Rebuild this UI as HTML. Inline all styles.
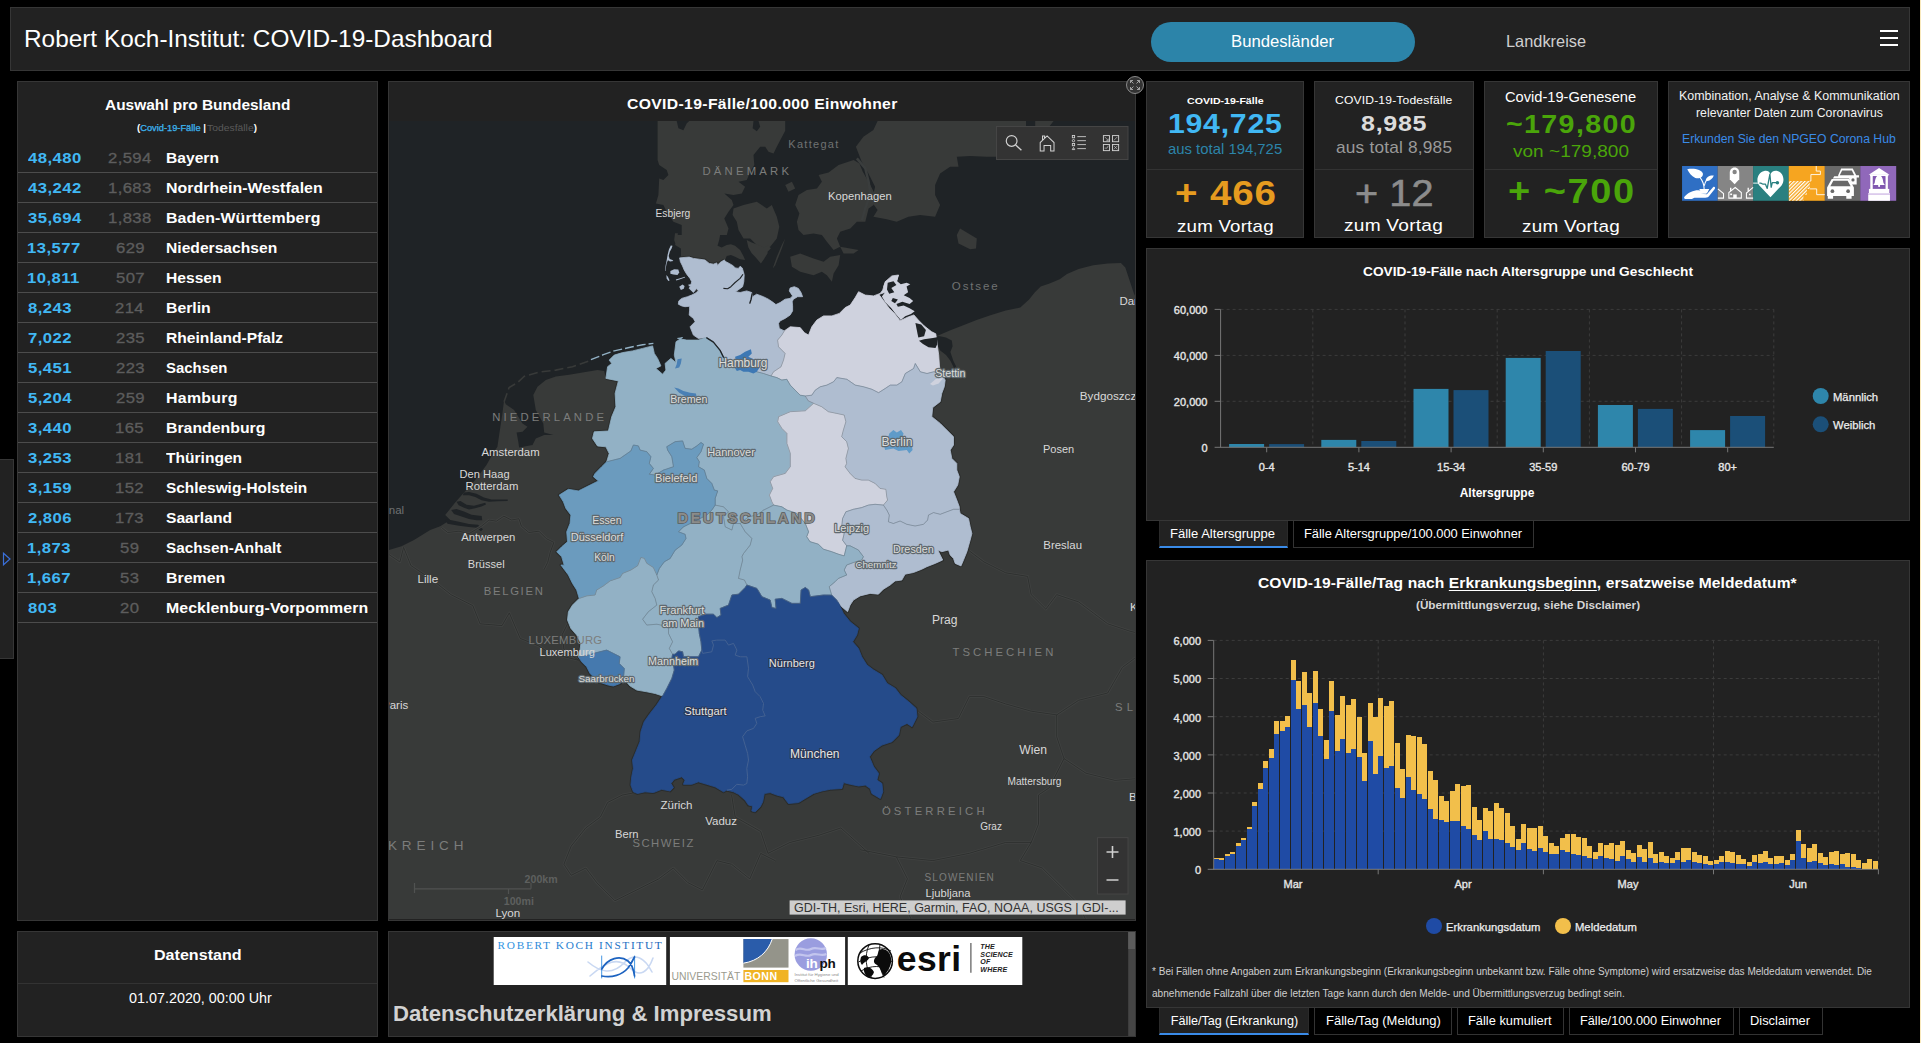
<!DOCTYPE html>
<html lang="de">
<head>
<meta charset="utf-8">
<title>Robert Koch-Institut: COVID-19-Dashboard</title>
<style>
*{box-sizing:border-box;margin:0;padding:0}
html,body{width:1921px;height:1043px;overflow:hidden;background:#000;color:#fff;font-family:"Liberation Sans",sans-serif}
.abs{position:absolute}
.t{position:absolute;white-space:nowrap;line-height:normal}
.panel{position:absolute;background:#222;border:1px solid #363636}
svg{display:block;overflow:hidden}
svg text{font-family:"Liberation Sans",sans-serif}
/* header */
#hdr{left:10px;top:7px;width:1900px;height:64px}
#pill{left:1140px;top:14px;width:264px;height:40px;border-radius:20px;background:#2c84a9}
.hb{left:1869px;width:18px;height:2px;background:#fff}
/* left list */
#list{left:17px;top:81px;width:361px;height:840px}
.row{position:absolute;left:0;width:359px;height:30px;border-bottom:1px solid #4c4c4c}
#sidetab{left:0;top:459px;width:14px;height:200px;border-left:none}
/* datenstand */
#ds{left:17px;top:931px;width:361px;height:106px}
#ds .hr{left:0;top:51px;width:100%;height:1px;background:#333}
/* map */
#map{left:388px;top:81px;width:748px;height:840px}
/* logos */
#logos{left:388px;top:931px;width:748px;height:106px;overflow:hidden}
/* kpi */
.kpi .hr{position:absolute;left:0;top:87px;width:100%;height:1px;background:#333}
/* charts */
.grid{stroke:#3c3c3c;stroke-width:1;stroke-dasharray:3 3}
.axis{stroke:#777;stroke-width:1}
.tick{font-size:11px;fill:#e6e6e6;stroke:#e6e6e6;stroke-width:0.35px}
.leg{font-size:11.25px;fill:#eee;stroke:#eee;stroke-width:0.25px}
.axtitle{font-size:12px;fill:#fff;font-weight:bold}
.tab{position:absolute;height:27px;border:1px solid #333;border-top:none;background:#000;font-size:13px;line-height:25px;text-align:center;white-space:nowrap;color:#fff}
.tab.on{background:#222;border:none;border-bottom:2px solid #3a8be8;border-left:1px solid #2a2a2a;border-right:1px solid #2a2a2a;line-height:25px}
</style>
</head>
<body>
<!-- HEADER -->
<div class="panel" id="hdr">
  <div class="abs" id="pill"></div>
  <div class="abs hb" style="top:22px"></div><div class="abs hb" style="top:29px"></div><div class="abs hb" style="top:36px"></div>
</div>

<!-- LEFT LIST -->
<div class="panel" id="list">
<div class="row" style="top:61px"></div>
<div class="row" style="top:91px"></div>
<div class="row" style="top:121px"></div>
<div class="row" style="top:151px"></div>
<div class="row" style="top:181px"></div>
<div class="row" style="top:211px"></div>
<div class="row" style="top:241px"></div>
<div class="row" style="top:271px"></div>
<div class="row" style="top:301px"></div>
<div class="row" style="top:331px"></div>
<div class="row" style="top:361px"></div>
<div class="row" style="top:391px"></div>
<div class="row" style="top:421px"></div>
<div class="row" style="top:451px"></div>
<div class="row" style="top:481px"></div>
<div class="row" style="top:511px"></div>
</div>
<div class="panel" id="sidetab"><svg class="abs" style="left:2px;top:92px" width="10" height="14" viewBox="0 0 10 14"><path d="M1.5 1.2 L8 7 L1.5 12.8 Z" fill="none" stroke="#3a6fd8" stroke-width="1.2"/></svg></div>

<div class="panel" id="ds"><div class="abs hr"></div></div>

<!-- MAP -->
<div class="panel" id="map">
<svg class="abs" style="left:0;top:39px" width="746" height="798" viewBox="389 121 746 798">
<style>.ml{fill:#d8d8d8;font-family:"Liberation Sans",sans-serif}.mh{fill:#dcdcda;stroke:#5f696f;stroke-width:2.3px;paint-order:stroke;stroke-linejoin:round}.md{fill:#e6e6e6;stroke:#2a3550;stroke-width:2px;paint-order:stroke;stroke-linejoin:round}.mc{fill:#7c7d7c}.ms{fill:#6f7272}.bd{fill:none;stroke:#2d2f2e;stroke-width:0.9}.bg{fill:none;stroke:#404241;stroke-width:2.6;stroke-linejoin:round}</style>
<rect x="389" y="121" width="746" height="798" fill="#383a39"/>
<path d="M389.0 121.0 L657.6 121.0 L657.6 160.0 L659.2 165.1 L666.7 170.1 L668.4 175.1 L663.4 180.1 L659.2 178.4 L658.4 195.1 L655.9 203.4 L663.4 205.1 L666.7 211.8 L673.4 221.8 L681.7 225.1 L681.7 235.1 L676.7 235.1 L675.1 245.1 L680.9 248.5 L680.9 258.5 L690.0 273.0 L700.0 300.0 L705.0 330.0 L700.0 347.0 L674.0 381.0 L650.0 381.0 L625.0 371.0 L605.9 378.4 L604.2 370.9 L597.5 370.1 L582.5 372.6 L569.2 374.7 L555.8 376.4 L545.8 380.1 L537.5 386.8 L533.3 395.1 L535.8 410.1 L543.3 423.5 L544.2 432.6 L553.3 435.1 L544.2 435.1 L535.8 438.5 L532.5 445.1 L519.1 447.6 L518.3 441.8 L516.6 432.6 L522.5 431.8 L527.5 426.8 L522.5 423.5 L514.1 410.1 L505.8 404.3 L504.1 400.1 L502.4 413.4 L499.9 430.1 L497.4 446.8 L491.4 456.2 L486.5 465.0 L479.0 475.0 L470.2 486.2 L464.0 492.5 L455.2 502.5 L445.2 515.0 L450.2 520.0 L440.2 526.2 L430.2 530.0 L414.0 540.0 L401.5 546.2 L389.0 549.9Z" fill="#1f2326"/>
<path d="M785.2 121.0 L877.6 121.0 L873.4 130.0 L863.4 136.7 L855.9 146.7 L861.7 161.7 L868.4 173.4 L875.1 186.7 L871.7 201.8 L877.6 210.1 L873.4 216.8 L886.7 219.3 L896.7 221.8 L908.4 216.8 L920.1 215.1 L935.1 216.8 L940.1 205.1 L935.1 195.1 L935.1 185.1 L940.1 173.4 L950.1 166.7 L958.5 166.7 L956.8 156.7 L970.2 155.9 L986.8 156.7 L1003.5 156.7 L1036.9 148.4 L1045.2 131.7 L1053.6 121.0 L1136.0 121.0 L1136.2 298.1 L1134.0 293.7 L1131.1 285.0 L1128.2 276.2 L1125.3 267.5 L1120.9 263.1 L1107.8 263.4 L1093.2 265.3 L1078.6 268.9 L1067.0 274.0 L1059.7 279.2 L1049.5 283.5 L1040.7 286.4 L1034.9 292.3 L1029.1 299.6 L1020.3 307.6 L1005.8 310.5 L991.2 314.9 L976.6 320.0 L962.0 325.8 L950.4 330.2 L938.7 335.3 L900.0 345.0 L810.0 345.0 L772.0 340.0 L738.0 330.0 L734.0 288.0 L725.1 260.0 L726.7 255.9 L730.9 255.0 L735.1 256.7 L740.1 259.2 L745.1 260.0 L743.4 255.9 L740.1 250.0 L735.1 245.8 L730.9 244.2 L726.7 245.0 L721.7 247.5 L717.5 245.8 L719.2 240.0 L720.1 235.0 L726.8 235.1 L728.5 228.4 L724.3 218.4 L728.5 211.8 L733.5 205.1 L731.8 200.1 L724.3 193.4 L733.5 195.1 L741.8 193.4 L745.1 186.7 L738.5 181.7 L746.8 180.1 L750.2 171.7 L754.3 165.1 L753.5 155.0 L760.2 146.7 L765.2 146.7 L768.5 151.7 L773.5 153.4 L776.8 146.7 L785.2 130.8Z" fill="#1f2326"/>
<path d="M676.7 121.0 L678.4 128.3 L683.4 130.3 L686.8 123.3 L689.3 121.0Z" fill="#1f2326"/>
<path d="M753.5 121.0 L752.7 128.3 L756.8 131.2 L760.2 126.7 L758.5 121.0Z" fill="#1f2326"/>
<path d="M1026.0 121.0 L1026.0 126.7 L1035.2 126.7 L1035.2 121.0Z" fill="#1f2326"/>
<path d="M921.2 340.4 L932.9 338.2 L938.7 336.0 L946.0 337.5 L951.8 340.4 L952.6 346.2 L950.4 352.0 L953.3 360.8 L956.2 366.6 L954.0 368.1 L950.4 360.8 L946.0 354.9 L940.2 350.6 L937.2 344.7 L935.8 347.7 L928.5 346.9 L922.7 343.3Z" fill="#1f2326"/>
<path d="M733.5 208.4 L743.5 205.1 L756.8 201.8 L766.8 208.4 L771.8 205.1 L776.8 216.8 L779.3 226.8 L776.8 238.5 L770.2 246.8 L765.2 248.5 L756.8 245.1 L750.2 238.5 L743.5 238.5 L738.5 230.1 L736.8 221.8 L732.6 215.1Z" fill="#383a39"/>
<path d="M785.2 238.5 L781.8 248.5 L775.2 265.2 L772.7 268.5 L776.8 256.8 L781.8 245.1Z" fill="#383a39"/>
<path d="M746.7 240.0 L751.7 242.5 L758.4 245.0 L764.3 247.5 L768.4 245.8 L770.9 248.3 L767.6 251.7 L767.6 253.3 L763.4 260.0 L760.9 263.4 L755.1 256.7 L751.7 253.3 L748.4 247.5Z" fill="#383a39"/>
<path d="M675.0 233.3 L677.9 233.3 L677.1 240.0 L675.4 243.8 L674.2 240.0Z" fill="#383a39"/>
<path d="M798.5 195.1 L806.9 190.1 L816.9 188.4 L821.9 181.7 L818.6 175.1 L828.6 172.6 L838.6 165.1 L853.6 160.0 L859.4 163.4 L862.8 171.7 L870.3 185.1 L875.3 195.1 L873.6 205.1 L868.6 208.4 L865.3 221.8 L856.9 221.8 L850.3 228.4 L840.2 231.8 L836.9 238.5 L840.2 246.8 L833.6 250.1 L826.9 241.8 L821.9 235.1 L813.5 233.5 L803.5 235.1 L798.5 230.1 L796.9 221.8 L799.4 213.4 L795.2 205.1Z" fill="#383a39"/>
<path d="M790.2 256.8 L800.2 253.5 L813.5 258.5 L823.6 261.8 L830.2 256.8 L840.2 255.1 L838.6 265.2 L833.6 273.5 L831.9 281.8 L826.9 275.2 L821.9 271.8 L813.5 275.2 L800.2 271.8 L791.9 266.8Z" fill="#383a39"/>
<path d="M840.2 246.8 L858.6 250.1 L853.6 253.5 L843.6 253.5Z" fill="#383a39"/>
<path d="M960.1 228.4 L976.8 238.5 L976.0 248.5 L970.2 249.3 L958.5 243.5 L956.8 235.1Z" fill="#383a39"/>
<path d="M785.2 185.1 L791.9 181.7 L795.2 188.4 L788.5 191.7Z" fill="#383a39"/>
<path d="M856.9 158.4 L865.3 168.4 L868.6 181.7 L870.3 193.4 L865.3 208.4 L861.9 220.1" fill="none" stroke="#3a3d3d" stroke-width="2.5"/>
<path d="M504.1 401.8 L509.1 387.6 L517.5 382.6 L524.1 376.4 L539.2 372.1 L555.8 370.1 L572.5 366.7 L589.2 360.9" fill="none" stroke="#383a39" stroke-width="1.6" stroke-dasharray="9 4"/>
<path d="M464.0 492.5 L469.0 492.0 L476.5 493.7 L484.0 497.5 L491.4 499.5 L507.7 499.5 L507.7 501.0 L497.7 501.3 L489.0 501.7 L481.5 500.2 L475.2 497.1 L469.0 495.2 L462.7 495.2Z" fill="#1f2326"/>
<path d="M456.5 501.8 L460.5 501.0 L466.5 504.7 L474.0 505.7 L485.2 502.8 L486.0 504.5 L481.5 506.5 L475.2 508.3 L469.0 509.6 L464.0 507.7 L458.7 505.2Z" fill="#1f2326"/>
<path d="M451.2 510.0 L456.5 509.1 L464.0 511.6 L471.5 514.7 L481.7 516.0 L482.2 520.2 L476.5 520.2 L469.0 519.0 L461.5 516.5 L454.0 514.0Z" fill="#1f2326"/>
<path d="M445.0 520.0 L449.2 519.7 L459.0 521.7 L469.0 524.1 L478.0 524.7 L483.0 529.2 L481.0 531.2 L476.5 527.7 L469.0 527.1 L459.0 525.8 L447.5 523.7Z" fill="#1f2326"/>
<path d="M403.6 547.3 L410.9 565.5 L432.7 580.1 L451.0 594.7 L472.8 605.6 L480.1 623.8 L502.0 625.6 L509.3 612.9 L520.2 638.4 L538.4 645.7 L549.3 653.0 L578.5 660.3" class="bg"/>
<path d="M567.6 623.8 L562.1 634.8 L563.9 649.3 L578.5 660.3" class="bg"/>
<path d="M441.5 527.5 L447.7 532.5 L459.0 531.2 L469.0 533.7 L481.5 526.2 L489.0 520.0 L496.4 521.2 L503.9 516.2 L511.4 520.0 L518.9 518.7 L521.4 526.2 L528.9 532.5 L538.9 531.2 L546.4 538.7 L553.9 542.4 L550.2 552.4 L547.7 562.4 L543.9 569.9" class="bg"/>
<path d="M640.5 791.5 L622.2 795.1 L607.7 802.4 L600.4 817.0 L585.8 827.9 L571.2 846.1 L563.9 864.3 L571.2 875.3 L585.8 868.0 L596.7 882.6 L614.9 900.8 L636.8 889.9 L658.7 878.9 L673.3 868.0 L687.8 882.6 L702.4 889.9 L717.0 860.7 L731.6 864.3 L749.8 878.9 L760.7 853.4 L775.3 860.7" class="bg"/>
<path d="M731.6 795.1 L735.2 817.0 L760.7 831.5 L768.0 853.4 L789.9 842.5 L819.0 835.2 L840.9 827.9 L869.0 853.4" class="bg"/>
<path d="M969.3 550.9 L983.9 561.9 L1005.7 572.8 L1027.6 576.4 L1031.2 594.6 L1045.8 609.2 L1056.7 594.6 L1078.6 601.9 L1093.2 612.9 L1107.7 623.8 L1129.6 631.1 L1136.9 632.9" class="bg"/>
<path d="M918.3 711.2 L932.9 722.1 L958.4 718.5 L969.3 696.6 L983.9 696.6 L1005.7 703.9 L1031.2 711.2 L1056.7 714.9 L1078.6 700.3 L1107.7 693.0 L1122.3 667.5 L1136.9 656.6" class="bg"/>
<path d="M1056.7 714.9 L1056.7 736.7 L1064.0 758.6 L1049.4 787.7 L1038.5 795.0 L1038.5 824.2 L1031.2 842.4 L1020.3 860.6 L1042.1 867.9 L1064.0 889.7 L1078.6 904.3 L1085.9 920.0" class="bg"/>
<path d="M1064.0 758.6 L1085.9 773.2 L1115.0 780.4 L1136.9 778.6" class="bg"/>
<path d="M860.0 849.7 L896.4 856.9 L932.9 860.6 L969.3 853.3 L1005.7 842.4 L1031.2 842.4" class="bg"/>
<path d="M896.4 856.9 L907.4 878.8 L900.1 897.0 L911.0 918.9" class="bg"/>
<path d="M403.6 547.3 L399.9 561.9 L389.0 554.6" class="bg"/>
<path d="M403.6 547.3 L410.9 565.5 L432.7 580.1 L451.0 594.7 L472.8 605.6 L480.1 623.8 L502.0 625.6 L509.3 612.9 L520.2 638.4 L538.4 645.7 L549.3 653.0 L578.5 660.3" class="bd"/>
<path d="M567.6 623.8 L562.1 634.8 L563.9 649.3 L578.5 660.3" class="bd"/>
<path d="M441.5 527.5 L447.7 532.5 L459.0 531.2 L469.0 533.7 L481.5 526.2 L489.0 520.0 L496.4 521.2 L503.9 516.2 L511.4 520.0 L518.9 518.7 L521.4 526.2 L528.9 532.5 L538.9 531.2 L546.4 538.7 L553.9 542.4 L550.2 552.4 L547.7 562.4 L543.9 569.9" class="bd"/>
<path d="M640.5 791.5 L622.2 795.1 L607.7 802.4 L600.4 817.0 L585.8 827.9 L571.2 846.1 L563.9 864.3 L571.2 875.3 L585.8 868.0 L596.7 882.6 L614.9 900.8 L636.8 889.9 L658.7 878.9 L673.3 868.0 L687.8 882.6 L702.4 889.9 L717.0 860.7 L731.6 864.3 L749.8 878.9 L760.7 853.4 L775.3 860.7" class="bd"/>
<path d="M731.6 795.1 L735.2 817.0 L760.7 831.5 L768.0 853.4 L789.9 842.5 L819.0 835.2 L840.9 827.9 L869.0 853.4" class="bd"/>
<path d="M969.3 550.9 L983.9 561.9 L1005.7 572.8 L1027.6 576.4 L1031.2 594.6 L1045.8 609.2 L1056.7 594.6 L1078.6 601.9 L1093.2 612.9 L1107.7 623.8 L1129.6 631.1 L1136.9 632.9" class="bd"/>
<path d="M918.3 711.2 L932.9 722.1 L958.4 718.5 L969.3 696.6 L983.9 696.6 L1005.7 703.9 L1031.2 711.2 L1056.7 714.9 L1078.6 700.3 L1107.7 693.0 L1122.3 667.5 L1136.9 656.6" class="bd"/>
<path d="M1056.7 714.9 L1056.7 736.7 L1064.0 758.6 L1049.4 787.7 L1038.5 795.0 L1038.5 824.2 L1031.2 842.4 L1020.3 860.6 L1042.1 867.9 L1064.0 889.7 L1078.6 904.3 L1085.9 920.0" class="bd"/>
<path d="M1064.0 758.6 L1085.9 773.2 L1115.0 780.4 L1136.9 778.6" class="bd"/>
<path d="M860.0 849.7 L896.4 856.9 L932.9 860.6 L969.3 853.3 L1005.7 842.4 L1031.2 842.4" class="bd"/>
<path d="M896.4 856.9 L907.4 878.8 L900.1 897.0 L911.0 918.9" class="bd"/>
<path d="M403.6 547.3 L399.9 561.9 L389.0 554.6" class="bd"/>
<path d="M679.6 257.9 L685.0 257.4 L689.2 257.1 L693.4 258.4 L699.2 259.2 L705.0 260.0 L709.2 263.4 L713.4 264.2 L716.7 262.9 L717.5 265.4 L720.1 262.5 L724.2 260.0" fill="none" stroke="#2a2c2b" stroke-width="2.8" stroke-linejoin="round"/>
<path d="M605.9 378.4 L618.4 380.9 L615.1 393.4 L615.9 406.8 L611.7 416.8 L608.4 431.0 L594.2 431.8 L592.5 438.5 L597.5 446.0 L605.9 446.8 L609.2 453.5 L606.7 461.8" fill="none" stroke="#2a2c2b" stroke-width="2.8" stroke-linejoin="round"/>
<path d="M579.2 598.4 L576.7 590.0 L572.5 583.4 L568.4 575.0 L560.9 565.0 L564.2 565.2 L561.7 556.8 L556.7 551.8 L561.7 546.8 L567.5 541.8 L566.7 531.8 L570.0 523.5 L570.9 515.1 L565.9 508.4 L563.4 501.8 L559.2 495.1 L568.4 489.3 L578.4 490.9 L590.1 485.1 L598.4 480.9 L593.4 476.7 L595.1 473.4 L601.7 466.7 L606.7 461.8" fill="none" stroke="#2a2c2b" stroke-width="2.8" stroke-linejoin="round"/>
<path d="M579.2 598.4 L572.5 605.1 L568.4 611.7 L567.5 620.1 L570.9 628.4 L576.7 635.1 L580.9 643.4 L580.0 650.1 L578.4 656.8" fill="none" stroke="#2a2c2b" stroke-width="2.8" stroke-linejoin="round"/>
<path d="M623.4 678.5 L620.1 683.5 L613.4 686.0 L608.4 685.1 L598.4 681.8 L590.1 673.5 L586.7 666.8 L581.7 661.8 L578.4 656.8" fill="none" stroke="#2a2c2b" stroke-width="2.8" stroke-linejoin="round"/>
<path d="M623.4 678.5 L630.1 686.0 L636.8 690.1 L646.8 691.8 L655.1 693.5 L662.6 696.0" fill="none" stroke="#2a2c2b" stroke-width="2.8" stroke-linejoin="round"/>
<path d="M726.8 790.1 L723.5 791.8 L715.1 786.8 L706.8 784.3 L698.4 781.8 L691.8 784.3 L683.4 784.3 L685.1 780.1 L681.7 776.8 L674.2 779.3 L670.9 783.5 L673.4 787.6 L670.1 791.0 L661.7 789.3 L653.4 792.6 L645.0 791.8 L637.5 793.5 L633.4 791.8 L630.9 785.1 L631.7 776.8 L633.4 768.4 L632.5 760.1 L635.9 751.8 L640.0 741.7 L640.9 731.7 L644.2 721.7 L650.1 713.4 L656.7 705.0 L662.6 696.0" fill="none" stroke="#2a2c2b" stroke-width="2.8" stroke-linejoin="round"/>
<path d="M838.4 602.6 L843.4 613.4 L850.1 621.8 L858.4 628.4 L856.7 635.1 L852.6 641.8 L858.4 648.5 L861.7 656.8 L866.9 665.0 L873.6 670.0 L881.9 675.0 L887.0 683.4 L895.3 688.4 L900.3 695.0 L908.6 701.7 L916.1 708.4 L917.0 716.7 L912.0 726.7 L907.0 723.4 L900.3 726.7 L898.6 735.1 L892.0 741.7 L881.9 745.1 L873.6 750.9 L869.4 756.8 L873.6 766.8 L878.6 773.4 L876.9 780.1 L881.9 783.5 L882.8 791.8 L880.3 798.5 L871.9 793.5 L870.3 788.5 L865.3 785.1 L858.6 786.0 L850.3 784.3 L843.6 782.6 L841.9 788.5 L830.2 789.3 L821.9 791.0 L813.5 793.5 L805.2 798.5 L798.5 802.6 L788.5 803.5 L783.5 796.8 L776.8 795.1 L770.2 792.6 L764.3 793.5 L762.7 801.8 L760.2 806.8 L755.2 811.8 L751.8 811.0 L752.7 806.0 L748.5 805.1 L745.1 800.1 L738.5 794.3 L733.5 791.8 L726.8 790.1" fill="none" stroke="#2a2c2b" stroke-width="2.8" stroke-linejoin="round"/>
<path d="M838.4 602.6 L841.7 606.7 L847.6 611.7 L850.1 605.1 L853.4 600.1 L860.1 595.9 L870.1 593.4 L878.4 594.2 L883.4 589.2 L890.1 585.1 L895.1 580.9 L901.8 580.1 L905.1 574.2 L913.5 572.5 L921.8 569.2 L926.8 566.7 L935.2 563.4 L942.7 560.0 L940.2 555.0 L937.7 550.0 L941.8 551.7 L948.5 550.0 L950.2 555.0 L953.5 558.4 L955.2 563.4 L961.0 565.9" fill="none" stroke="#2a2c2b" stroke-width="2.8" stroke-linejoin="round"/>
<path d="M959.3 509.3 L960.2 513.5 L968.5 518.5 L970.2 526.8 L971.9 533.5 L970.2 540.0 L966.9 551.7 L963.5 560.0 L961.0 565.9" fill="none" stroke="#2a2c2b" stroke-width="2.8" stroke-linejoin="round"/>
<path d="M940.2 372.4 L945.2 380.0 L944.3 386.7 L941.8 393.3 L940.2 401.7 L932.7 407.5 L931.8 416.7 L940.2 423.4 L946.8 430.1 L953.5 436.7 L953.5 445.1 L950.2 450.1 L951.8 458.4 L956.8 463.4 L956.8 470.1 L959.3 476.8 L957.7 485.1 L953.5 491.8 L956.8 500.1 L959.3 506.8 L959.3 509.3" fill="none" stroke="#2a2c2b" stroke-width="2.8" stroke-linejoin="round"/>
<g stroke-linejoin="round">
<path d="M679.6 257.9 L685.0 257.4 L689.2 257.1 L693.4 258.4 L699.2 259.2 L705.0 260.0 L709.2 263.4 L713.4 264.2 L716.7 262.9 L717.5 265.4 L720.1 262.5 L724.2 260.0 L725.9 261.7 L729.2 263.4 L733.4 265.9 L735.1 267.9 L738.4 268.4 L740.1 266.3 L742.2 267.9 L743.4 271.7 L744.2 275.0 L743.8 281.7 L742.6 286.7 L739.2 289.2 L735.5 291.7 L740.1 292.5 L746.7 290.9 L751.7 292.5 L752.6 296.7 L756.7 294.2 L763.4 296.7 L768.4 299.2 L773.4 302.6 L775.9 304.6 L780.1 302.6 L785.1 299.2 L790.1 298.4 L792.6 295.9 L790.9 293.4 L789.3 290.9 L790.1 288.0 L794.3 286.7 L798.4 288.4 L801.0 292.5 L802.6 296.7 L797.6 296.7 L793.4 299.2 L792.2 301.7 L792.6 305.9 L792.6 310.9 L790.1 315.1 L785.1 318.4 L780.1 320.9 L778.5 323.4 L779.3 328.4 L784.3 330.9 L781.8 335.1 L777.6 340.1 L778.5 346.8 L785.1 353.4 L783.5 360.1 L781.0 366.8 L773.5 371.8 L771.0 376.0 L763.5 373.5 L756.8 371.8 L746.8 368.5 L733.4 365.1 L723.4 356.8 L720.1 350.1 L713.4 341.8 L706.7 337.6 L698.4 338.4 L693.4 335.1 L690.1 326.8 L695.1 321.7 L693.4 318.4 L689.2 315.1 L689.6 310.1 L689.6 306.3 L685.0 306.7 L681.7 305.9 L678.3 304.2 L678.8 300.9 L681.7 298.4 L687.5 296.7 L691.7 295.1 L695.0 293.4 L698.4 290.9 L696.7 288.4 L693.4 292.5 L689.2 288.4 L690.9 285.0 L691.7 281.7 L690.0 278.4 L686.7 274.2 L684.2 270.0 L682.5 265.9 L680.4 261.7 L679.6 257.9Z" fill="#afbdd0" stroke="#afbdd0" stroke-width="0.8"/>
<path d="M784.3 330.9 L790.2 326.8 L800.2 327.6 L804.3 332.6 L808.5 335.1 L811.8 326.8 L816.8 320.1 L823.5 315.9 L831.9 315.9 L839.4 313.4 L845.2 307.6 L850.2 305.1 L855.2 297.6 L858.6 291.7 L865.2 295.1 L873.6 295.9 L880.2 293.4 L882.7 290.1 L885.2 281.7 L891.9 275.9 L898.6 275.0 L896.9 280.0 L890.3 285.0 L886.9 291.7 L878.9 294.5 L883.3 300.3 L889.2 308.3 L895.0 314.1 L900.1 320.7 L908.1 317.0 L913.9 314.9 L918.3 320.0 L924.1 325.8 L931.4 331.6 L935.8 333.8 L937.2 344.7 L938.7 354.9 L939.4 365.1 L940.2 372.4 L933.6 371.8 L927.0 373.5 L920.3 371.8 L915.3 363.5 L913.6 368.5 L905.3 373.5 L901.9 381.8 L896.9 385.1 L890.3 385.1 L885.2 388.5 L878.6 392.7 L871.9 389.3 L863.6 386.8 L855.2 385.1 L846.9 379.3 L836.9 377.6 L833.5 381.8 L826.9 385.1 L820.2 386.8 L815.2 390.2 L811.8 395.2 L805.2 396.0 L800.2 395.2 L795.2 390.2 L790.2 385.1 L786.8 379.3 L781.8 380.1 L776.8 377.6 L771.0 376.0 L773.5 371.8 L781.0 366.8 L783.5 360.1 L785.1 353.4 L778.5 346.8 L777.6 340.1 L781.8 335.1 L784.3 330.9Z" fill="#cfd2de" stroke="#cfd2de" stroke-width="0.8"/>
<path d="M706.7 337.6 L698.4 340.1 L686.7 340.1 L677.5 338.4 L682.6 337.5 L676.0 341.7 L674.3 355.1 L676.0 362.6 L670.9 358.4 L665.1 363.4 L665.9 370.1 L662.6 374.2 L655.9 368.4 L660.9 365.9 L657.6 358.4 L654.3 353.4 L652.6 345.9 L642.6 348.4 L632.6 350.9 L622.6 352.6 L614.2 355.1 L609.2 360.1 L611.7 363.4 L607.6 366.7 L605.9 378.4 L618.4 380.9 L615.1 393.4 L615.9 406.8 L611.7 416.8 L608.4 431.0 L594.2 431.8 L592.5 438.5 L597.5 446.0 L605.9 446.8 L609.2 453.5 L606.7 461.8 L620.1 458.4 L630.9 450.9 L633.4 445.0 L638.4 445.9 L640.1 450.1 L646.8 451.7 L650.9 456.7 L649.3 463.4 L653.4 468.4 L649.3 474.2 L655.1 475.1 L663.5 470.1 L673.5 466.7 L671.8 456.7 L667.6 450.1 L666.8 446.7 L675.1 441.7 L682.6 440.9 L685.1 448.4 L691.8 449.2 L696.8 445.9 L701.0 442.5 L703.5 444.2 L701.0 451.7 L696.8 457.6 L699.3 461.7 L698.5 466.7 L704.3 470.1 L706.8 478.4 L711.8 483.4 L714.3 490.1 L717.7 490.9 L715.2 498.4 L715.2 505.1 L723.5 506.8 L728.5 511.8 L723.5 516.8 L725.2 526.8 L731.9 530.1 L733.5 523.5 L740.2 523.5 L748.5 516.8 L756.9 515.1 L763.6 510.1 L773.6 505.1 L771.9 501.8 L769.4 495.1 L772.7 488.4 L770.2 481.7 L773.6 476.7 L785.2 473.4 L790.3 466.7 L790.3 453.4 L786.9 443.4 L786.9 433.4 L781.9 428.4 L777.7 421.7 L778.6 416.7 L790.3 411.7 L805.3 410.8 L813.6 403.3 L808.4 400.9 L805.2 396.0 L800.2 395.2 L795.2 390.2 L790.2 385.1 L786.8 379.3 L781.8 380.1 L776.8 377.6 L771.0 376.0 L763.5 373.5 L756.8 371.8 L746.8 368.5 L733.4 365.1 L723.4 356.8 L720.1 350.1 L713.4 341.8 L706.7 337.6Z" fill="#92b1c5" stroke="#92b1c5" stroke-width="0.8"/>
<path d="M805.2 396.0 L811.8 395.2 L815.2 390.2 L820.2 386.8 L826.9 385.1 L833.5 381.8 L836.9 377.6 L846.9 379.3 L855.2 385.1 L863.6 386.8 L871.9 389.3 L878.6 392.7 L885.2 388.5 L890.3 385.1 L896.9 385.1 L901.9 381.8 L905.3 373.5 L913.6 368.5 L915.3 363.5 L920.3 371.8 L927.0 373.5 L933.6 371.8 L940.2 372.4 L945.2 380.0 L944.3 386.7 L941.8 393.3 L940.2 401.7 L932.7 407.5 L931.8 416.7 L940.2 423.4 L946.8 430.1 L953.5 436.7 L953.5 445.1 L950.2 450.1 L951.8 458.4 L956.8 463.4 L956.8 470.1 L959.3 476.8 L957.7 485.1 L953.5 491.8 L956.8 500.1 L959.3 506.8 L959.3 509.3 L953.5 509.3 L946.8 511.8 L940.2 514.3 L933.5 512.6 L928.5 515.1 L927.6 520.1 L923.5 524.3 L915.1 526.0 L906.8 524.3 L900.1 521.0 L893.4 523.5 L888.4 521.8 L889.3 515.1 L886.8 510.1 L883.4 505.1 L887.6 500.1 L886.8 496.8 L885.9 489.3 L880.1 488.4 L875.1 483.4 L868.4 480.1 L861.7 480.1 L855.1 478.4 L850.1 473.4 L845.1 466.8 L846.7 463.4 L845.9 458.4 L848.4 448.4 L846.7 441.7 L841.7 436.7 L843.4 430.1 L845.9 421.7 L844.2 415.0 L836.7 413.4 L828.4 411.7 L821.7 406.7 L813.6 403.3 L808.4 400.9 L805.2 396.0Z" fill="#afbdd0" stroke="#afbdd0" stroke-width="0.8"/>
<path d="M773.6 505.1 L771.9 501.8 L769.4 495.1 L772.7 488.4 L770.2 481.7 L773.6 476.7 L785.2 473.4 L790.3 466.7 L790.3 453.4 L786.9 443.4 L786.9 433.4 L781.9 428.4 L777.7 421.7 L778.6 416.7 L790.3 411.7 L805.3 410.8 L813.6 403.3 L821.7 406.7 L828.4 411.7 L836.7 413.4 L844.2 415.0 L845.9 421.7 L843.4 430.1 L841.7 436.7 L846.7 441.7 L848.4 448.4 L845.9 458.4 L846.7 463.4 L845.1 466.8 L850.1 473.4 L855.1 478.4 L861.7 480.1 L868.4 480.1 L875.1 483.4 L880.1 488.4 L885.9 489.3 L886.8 496.8 L887.6 500.1 L883.4 505.1 L875.1 504.3 L868.4 505.1 L861.7 507.6 L853.4 509.3 L845.9 511.8 L842.6 518.5 L841.7 526.8 L844.2 533.5 L842.6 540.2 L846.7 545.8 L844.2 555.9 L838.4 554.2 L831.7 551.7 L823.4 549.2 L818.4 544.2 L810.0 541.7 L806.7 536.7 L808.6 531.8 L805.3 523.5 L796.9 513.4 L786.9 510.1 L781.9 506.8 L773.6 505.1Z" fill="#cfd2de" stroke="#cfd2de" stroke-width="0.8"/>
<path d="M883.4 505.1 L886.8 510.1 L889.3 515.1 L888.4 521.8 L893.4 523.5 L900.1 521.0 L906.8 524.3 L915.1 526.0 L923.5 524.3 L927.6 520.1 L928.5 515.1 L933.5 512.6 L940.2 514.3 L946.8 511.8 L953.5 509.3 L959.3 509.3 L960.2 513.5 L968.5 518.5 L970.2 526.8 L971.9 533.5 L970.2 540.0 L966.9 551.7 L963.5 560.0 L961.0 565.9 L955.2 563.4 L953.5 558.4 L950.2 555.0 L948.5 550.0 L941.8 551.7 L937.7 550.0 L940.2 555.0 L942.7 560.0 L935.2 563.4 L926.8 566.7 L921.8 569.2 L913.5 572.5 L905.1 574.2 L901.8 580.1 L895.1 580.9 L890.1 585.1 L883.4 589.2 L878.4 594.2 L870.1 593.4 L860.1 595.9 L853.4 600.1 L850.1 605.1 L847.6 611.7 L841.7 606.7 L838.4 602.6 L836.7 600.1 L831.7 595.1 L829.2 586.7 L835.1 581.7 L838.4 578.4 L846.7 575.0 L844.2 570.0 L846.7 565.0 L853.4 562.5 L861.7 560.0 L863.4 556.7 L858.4 550.0 L850.1 545.8 L846.7 545.8 L842.6 540.2 L844.2 533.5 L841.7 526.8 L842.6 518.5 L845.9 511.8 L853.4 509.3 L861.7 507.6 L868.4 505.1 L875.1 504.3 L883.4 505.1Z" fill="#afbdd0" stroke="#afbdd0" stroke-width="0.8"/>
<path d="M740.2 523.5 L748.5 516.8 L756.9 515.1 L763.6 510.1 L773.6 505.1 L781.9 506.8 L786.9 510.1 L796.9 513.4 L805.3 523.5 L808.6 531.8 L806.7 536.7 L810.0 541.7 L818.4 544.2 L823.4 549.2 L831.7 551.7 L838.4 554.2 L844.2 555.9 L846.7 545.8 L850.1 545.8 L858.4 550.0 L863.4 556.7 L861.7 560.0 L853.4 562.5 L846.7 565.0 L844.2 570.0 L846.7 575.0 L838.4 578.4 L835.1 581.7 L829.2 586.7 L831.7 595.1 L823.6 595.0 L810.3 596.7 L808.6 590.0 L805.3 587.5 L801.1 590.0 L800.3 603.4 L791.9 603.4 L781.9 598.4 L775.2 599.2 L776.1 608.4 L771.9 607.6 L770.2 600.1 L761.9 596.7 L756.9 588.4 L746.9 585.0 L744.4 580.0 L738.5 578.4 L740.2 570.0 L742.7 560.0 L741.9 556.7 L743.5 553.5 L750.2 545.1 L751.9 538.5 L745.2 531.8 L740.2 523.5Z" fill="#92b1c5" stroke="#92b1c5" stroke-width="0.8"/>
<path d="M740.2 523.5 L733.5 523.5 L731.9 530.1 L725.2 526.8 L723.5 516.8 L728.5 511.8 L723.5 506.8 L715.2 505.1 L711.8 510.1 L706.8 515.1 L698.5 519.3 L690.2 523.5 L683.5 526.8 L678.5 531.8 L685.1 534.3 L686.0 538.5 L681.8 545.1 L675.1 550.2 L670.1 558.5 L664.3 561.8 L659.3 568.5 L656.8 575.0 L658.5 580.0 L653.4 585.0 L651.8 591.7 L655.1 598.4 L656.8 605.1 L648.4 611.7 L642.6 619.2 L646.8 625.1 L656.8 624.2 L668.5 626.7 L668.5 633.4 L672.6 641.8 L669.3 648.4 L672.6 654.3 L675.1 654.3 L678.5 650.9 L682.6 651.8 L683.5 656.8 L690.2 656.8 L698.5 656.8 L701.8 650.1 L701.0 641.8 L699.3 633.4 L698.5 625.1 L698.5 616.7 L705.2 614.2 L713.5 614.2 L716.8 617.6 L721.0 615.1 L720.2 608.4 L728.5 605.1 L731.9 595.0 L738.5 594.2 L745.2 587.5 L746.9 585.0 L744.4 580.0 L738.5 578.4 L740.2 570.0 L742.7 560.0 L741.9 556.7 L743.5 553.5 L750.2 545.1 L751.9 538.5 L745.2 531.8 L740.2 523.5Z" fill="#92b1c5" stroke="#92b1c5" stroke-width="0.8"/>
<path d="M606.7 461.8 L620.1 458.4 L630.9 450.9 L633.4 445.0 L638.4 445.9 L640.1 450.1 L646.8 451.7 L650.9 456.7 L649.3 463.4 L653.4 468.4 L649.3 474.2 L655.1 475.1 L663.5 470.1 L673.5 466.7 L671.8 456.7 L667.6 450.1 L666.8 446.7 L675.1 441.7 L682.6 440.9 L685.1 448.4 L691.8 449.2 L696.8 445.9 L701.0 442.5 L703.5 444.2 L701.0 451.7 L696.8 457.6 L699.3 461.7 L698.5 466.7 L704.3 470.1 L706.8 478.4 L711.8 483.4 L714.3 490.1 L717.7 490.9 L715.2 498.4 L715.2 505.1 L711.8 510.1 L706.8 515.1 L698.5 519.3 L690.2 523.5 L683.5 526.8 L678.5 531.8 L685.1 534.3 L686.0 538.5 L681.8 545.1 L675.1 550.2 L670.1 558.5 L664.3 561.8 L659.3 568.5 L656.8 575.0 L653.4 567.5 L646.8 563.3 L644.3 558.3 L640.9 557.5 L637.6 565.8 L630.9 570.0 L622.6 573.4 L620.1 577.5 L610.1 580.9 L603.4 585.9 L596.7 590.0 L595.1 595.0 L586.7 595.9 L579.2 598.4 L576.7 590.0 L572.5 583.4 L568.4 575.0 L560.9 565.0 L564.2 565.2 L561.7 556.8 L556.7 551.8 L561.7 546.8 L567.5 541.8 L566.7 531.8 L570.0 523.5 L570.9 515.1 L565.9 508.4 L563.4 501.8 L559.2 495.1 L568.4 489.3 L578.4 490.9 L590.1 485.1 L598.4 480.9 L593.4 476.7 L595.1 473.4 L601.7 466.7 L606.7 461.8Z" fill="#6b9bbe" stroke="#6b9bbe" stroke-width="0.8"/>
<path d="M579.2 598.4 L586.7 595.9 L595.1 595.0 L596.7 590.0 L603.4 585.9 L610.1 580.9 L620.1 577.5 L622.6 573.4 L630.9 570.0 L637.6 565.8 L640.9 557.5 L644.3 558.3 L646.8 563.3 L653.4 567.5 L656.8 575.0 L658.5 580.0 L653.4 585.0 L651.8 591.7 L655.1 598.4 L656.8 605.1 L648.4 611.7 L642.6 619.2 L646.8 625.1 L656.8 624.2 L668.5 626.7 L668.5 633.4 L672.6 641.8 L669.3 648.4 L672.6 654.3 L671.8 658.4 L673.5 665.1 L674.3 670.1 L671.8 678.5 L666.8 688.5 L662.6 696.0 L655.1 693.5 L646.8 691.8 L636.8 690.1 L630.1 686.0 L623.4 678.5 L624.3 668.5 L619.2 663.4 L620.1 656.8 L613.4 653.4 L606.7 650.1 L596.7 652.6 L588.4 655.1 L578.4 656.8 L580.0 650.1 L580.9 643.4 L576.7 635.1 L570.9 628.4 L567.5 620.1 L568.4 611.7 L572.5 605.1 L579.2 598.4Z" fill="#92b1c5" stroke="#92b1c5" stroke-width="0.8"/>
<path d="M578.4 656.8 L588.4 655.1 L596.7 652.6 L606.7 650.1 L613.4 653.4 L620.1 656.8 L619.2 663.4 L624.3 668.5 L623.4 678.5 L620.1 683.5 L613.4 686.0 L608.4 685.1 L598.4 681.8 L590.1 673.5 L586.7 666.8 L581.7 661.8 L578.4 656.8Z" fill="#4579ae" stroke="#4579ae" stroke-width="0.8"/>
<path d="M701.8 650.1 L698.5 656.8 L690.2 656.8 L683.5 656.8 L682.6 651.8 L678.5 650.9 L675.1 654.3 L672.6 654.3 L671.8 658.4 L673.5 665.1 L674.3 670.1 L671.8 678.5 L666.8 688.5 L662.6 696.0 L656.7 705.0 L650.1 713.4 L644.2 721.7 L640.9 731.7 L640.0 741.7 L635.9 751.8 L632.5 760.1 L633.4 768.4 L631.7 776.8 L630.9 785.1 L633.4 791.8 L637.5 793.5 L645.0 791.8 L653.4 792.6 L661.7 789.3 L670.1 791.0 L673.4 787.6 L670.9 783.5 L674.2 779.3 L681.7 776.8 L685.1 780.1 L683.4 784.3 L691.8 784.3 L698.4 781.8 L706.8 784.3 L715.1 786.8 L723.5 791.8 L726.8 790.1 L731.8 789.3 L736.8 784.3 L743.5 785.1 L746.8 783.5 L747.6 776.8 L746.8 768.4 L748.5 760.1 L747.6 753.4 L745.1 745.1 L742.6 736.7 L746.8 730.9 L753.5 728.4 L756.8 723.4 L755.2 718.4 L760.2 716.7 L765.2 715.9 L762.7 710.1 L763.5 703.4 L760.2 696.7 L755.2 691.7 L752.7 685.0 L747.6 676.7 L748.5 668.3 L746.9 656.8 L740.2 656.8 L735.2 655.1 L736.9 650.1 L733.5 643.4 L728.5 645.1 L725.2 640.1 L716.8 640.1 L711.8 640.9 L713.5 645.1 L711.8 651.8 L702.7 653.4 L701.8 650.1Z" fill="#254b8a" stroke="#254b8a" stroke-width="0.8"/>
<path d="M701.8 650.1 L701.0 641.8 L699.3 633.4 L698.5 625.1 L698.5 616.7 L705.2 614.2 L713.5 614.2 L716.8 617.6 L721.0 615.1 L720.2 608.4 L728.5 605.1 L731.9 595.0 L738.5 594.2 L745.2 587.5 L746.9 585.0 L756.9 588.4 L761.9 596.7 L770.2 600.1 L771.9 607.6 L776.1 608.4 L775.2 599.2 L781.9 598.4 L791.9 603.4 L800.3 603.4 L801.1 590.0 L805.3 587.5 L808.6 590.0 L810.3 596.7 L823.6 595.0 L831.7 595.1 L836.7 600.1 L838.4 602.6 L843.4 613.4 L850.1 621.8 L858.4 628.4 L856.7 635.1 L852.6 641.8 L858.4 648.5 L861.7 656.8 L866.9 665.0 L873.6 670.0 L881.9 675.0 L887.0 683.4 L895.3 688.4 L900.3 695.0 L908.6 701.7 L916.1 708.4 L917.0 716.7 L912.0 726.7 L907.0 723.4 L900.3 726.7 L898.6 735.1 L892.0 741.7 L881.9 745.1 L873.6 750.9 L869.4 756.8 L873.6 766.8 L878.6 773.4 L876.9 780.1 L881.9 783.5 L882.8 791.8 L880.3 798.5 L871.9 793.5 L870.3 788.5 L865.3 785.1 L858.6 786.0 L850.3 784.3 L843.6 782.6 L841.9 788.5 L830.2 789.3 L821.9 791.0 L813.5 793.5 L805.2 798.5 L798.5 802.6 L788.5 803.5 L783.5 796.8 L776.8 795.1 L770.2 792.6 L764.3 793.5 L762.7 801.8 L760.2 806.8 L755.2 811.8 L751.8 811.0 L752.7 806.0 L748.5 805.1 L745.1 800.1 L738.5 794.3 L733.5 791.8 L726.8 790.1 L731.8 789.3 L736.8 784.3 L743.5 785.1 L746.8 783.5 L747.6 776.8 L746.8 768.4 L748.5 760.1 L747.6 753.4 L745.1 745.1 L742.6 736.7 L746.8 730.9 L753.5 728.4 L756.8 723.4 L755.2 718.4 L760.2 716.7 L765.2 715.9 L762.7 710.1 L763.5 703.4 L760.2 696.7 L755.2 691.7 L752.7 685.0 L747.6 676.7 L748.5 668.3 L746.9 656.8 L740.2 656.8 L735.2 655.1 L736.9 650.1 L733.5 643.4 L728.5 645.1 L725.2 640.1 L716.8 640.1 L711.8 640.9 L713.5 645.1 L711.8 651.8 L702.7 653.4 L701.8 650.1Z" fill="#254b8a" stroke="#254b8a" stroke-width="0.8"/>
<path d="M670.8 245.4 L672.5 245.8 L671.7 248.3 L669.8 251.7 L668.7 255.9 L669.7 259.0 L672.5 259.9 L673.3 261.0 L670.0 261.4 L668.0 260.2 L666.8 262.7 L666.0 266.7 L665.5 270.9 L665.0 270.9 L665.5 266.0 L666.7 260.0 L667.7 254.2 L669.0 249.2Z" fill="#afbdd0"/>
<path d="M670.4 270.9 L674.2 269.2 L678.3 269.6 L679.2 272.5 L677.5 275.0 L673.3 274.6 L670.4 273.8Z" fill="#afbdd0"/>
<path d="M666.3 275.0 L667.9 276.7 L669.6 280.5 L668.3 281.0 L666.7 278.4Z" fill="#afbdd0"/>
<path d="M679.2 286.7 L682.5 284.6 L684.6 285.9 L683.8 288.8 L680.9 290.0Z" fill="#afbdd0"/>
<path d="M688.4 284.6 L691.3 284.2 L691.7 285.9 L688.8 286.3Z" fill="#afbdd0"/>
<path d="M675.8 279.6 L680.9 278.0 L685.0 276.7 L685.0 277.5 L680.9 279.0 L676.3 280.5Z" fill="#afbdd0"/>
<path d="M743.0 274.2 L740.1 278.4 L735.1 282.5 L730.9 286.7 L727.6 288.8 L723.4 288.4" fill="none" stroke="#1f2326" stroke-width="1.1"/>
<path d="M752.2 293.4 L751.1 299.2 L749.7 303.6" fill="none" stroke="#1f2326" stroke-width="1.4"/>
<path d="M898.6 275.1 L891.3 279.2 L885.5 281.3 L883.3 286.4 L887.0 289.4 L884.0 293.7 L881.9 296.6 L885.5 302.5 L891.3 308.3 L895.7 314.1 L900.8 320.0 L905.2 316.3 L911.0 314.1 L914.7 311.2 L909.6 308.3 L903.7 305.4 L897.9 306.8 L896.4 303.9 L902.3 301.7 L909.6 303.9 L913.2 301.0 L909.6 298.1 L903.7 295.2 L908.1 292.3 L906.6 286.4 L910.3 284.3 L906.6 282.8 L900.8 284.3 L897.2 281.3Z" fill="#cfd2de"/>
<path d="M887.7 282.8 L893.5 281.3 L896.4 285.0 L891.3 287.9 L894.3 292.3 L889.2 293.7 L887.0 289.4Z" fill="#1f2326"/>
<path d="M915.4 322.9 L921.2 324.6 L925.9 329.9 L924.1 336.3 L918.3 337.5 L917.1 331.6Z" fill="#1f2326"/>
<path d="M892.8 298.1 L897.9 299.6 L895.0 303.2 L891.3 301.0Z" fill="#1f2326"/>
<path d="M919.0 340.7 L924.1 339.2 L932.9 337.9 L937.0 337.2 L937.0 344.7 L935.5 347.9 L928.5 347.2 L923.0 344.0Z" fill="#1f2326"/>
<path d="M930.0 384.1 L935.8 379.0 L943.1 378.3 L938.7 383.4 L932.9 385.5Z" fill="#cfd2de"/>
<path d="M590.9 359.7 L603.4 354.7 L614.2 350.9 L629.2 347.5 L642.6 344.7 L653.4 343.4" fill="none" stroke="#92b1c5" stroke-width="1.4" stroke-dasharray="9 3"/>
<path d="M784.3 330.9 L781.8 335.1 L777.6 340.1 L778.5 346.8 L785.1 353.4 L783.5 360.1 L781.0 366.8 L773.5 371.8 L771.0 376.0" fill="none" stroke="#5f6f7b" stroke-opacity="0.75" stroke-width="0.7"/>
<path d="M771.0 376.0 L763.5 373.5 L756.8 371.8 L746.8 368.5 L733.4 365.1 L723.4 356.8 L720.1 350.1 L713.4 341.8 L706.7 337.6" fill="none" stroke="#5f6f7b" stroke-opacity="0.75" stroke-width="0.7"/>
<path d="M940.2 372.4 L933.6 371.8 L927.0 373.5 L920.3 371.8 L915.3 363.5 L913.6 368.5 L905.3 373.5 L901.9 381.8 L896.9 385.1 L890.3 385.1 L885.2 388.5 L878.6 392.7 L871.9 389.3 L863.6 386.8 L855.2 385.1 L846.9 379.3 L836.9 377.6 L833.5 381.8 L826.9 385.1 L820.2 386.8 L815.2 390.2 L811.8 395.2 L805.2 396.0" fill="none" stroke="#5f6f7b" stroke-opacity="0.75" stroke-width="0.7"/>
<path d="M805.2 396.0 L800.2 395.2 L795.2 390.2 L790.2 385.1 L786.8 379.3 L781.8 380.1 L776.8 377.6 L771.0 376.0" fill="none" stroke="#5f6f7b" stroke-opacity="0.75" stroke-width="0.7"/>
<path d="M606.7 461.8 L620.1 458.4 L630.9 450.9 L633.4 445.0 L638.4 445.9 L640.1 450.1 L646.8 451.7 L650.9 456.7 L649.3 463.4 L653.4 468.4 L649.3 474.2 L655.1 475.1 L663.5 470.1 L673.5 466.7 L671.8 456.7 L667.6 450.1 L666.8 446.7 L675.1 441.7 L682.6 440.9 L685.1 448.4 L691.8 449.2 L696.8 445.9 L701.0 442.5 L703.5 444.2 L701.0 451.7 L696.8 457.6 L699.3 461.7 L698.5 466.7 L704.3 470.1 L706.8 478.4 L711.8 483.4 L714.3 490.1 L717.7 490.9 L715.2 498.4 L715.2 505.1" fill="none" stroke="#5f6f7b" stroke-opacity="0.75" stroke-width="0.7"/>
<path d="M715.2 505.1 L711.8 510.1 L706.8 515.1 L698.5 519.3 L690.2 523.5 L683.5 526.8 L678.5 531.8 L685.1 534.3 L686.0 538.5 L681.8 545.1 L675.1 550.2 L670.1 558.5 L664.3 561.8 L659.3 568.5 L656.8 575.0" fill="none" stroke="#5f6f7b" stroke-opacity="0.75" stroke-width="0.7"/>
<path d="M656.8 575.0 L653.4 567.5 L646.8 563.3 L644.3 558.3 L640.9 557.5 L637.6 565.8 L630.9 570.0 L622.6 573.4 L620.1 577.5 L610.1 580.9 L603.4 585.9 L596.7 590.0 L595.1 595.0 L586.7 595.9 L579.2 598.4" fill="none" stroke="#5f6f7b" stroke-opacity="0.75" stroke-width="0.7"/>
<path d="M672.6 654.3 L669.3 648.4 L672.6 641.8 L668.5 633.4 L668.5 626.7 L656.8 624.2 L646.8 625.1 L642.6 619.2 L648.4 611.7 L656.8 605.1 L655.1 598.4 L651.8 591.7 L653.4 585.0 L658.5 580.0 L656.8 575.0" fill="none" stroke="#5f6f7b" stroke-opacity="0.75" stroke-width="0.7"/>
<path d="M746.9 585.0 L744.4 580.0 L738.5 578.4 L740.2 570.0 L742.7 560.0 L741.9 556.7 L743.5 553.5 L750.2 545.1 L751.9 538.5 L745.2 531.8 L740.2 523.5" fill="none" stroke="#5f6f7b" stroke-opacity="0.75" stroke-width="0.7"/>
<path d="M715.2 505.1 L723.5 506.8 L728.5 511.8 L723.5 516.8 L725.2 526.8 L731.9 530.1 L733.5 523.5 L740.2 523.5" fill="none" stroke="#5f6f7b" stroke-opacity="0.75" stroke-width="0.7"/>
<path d="M740.2 523.5 L748.5 516.8 L756.9 515.1 L763.6 510.1 L773.6 505.1" fill="none" stroke="#5f6f7b" stroke-opacity="0.75" stroke-width="0.7"/>
<path d="M773.6 505.1 L771.9 501.8 L769.4 495.1 L772.7 488.4 L770.2 481.7 L773.6 476.7 L785.2 473.4 L790.3 466.7 L790.3 453.4 L786.9 443.4 L786.9 433.4 L781.9 428.4 L777.7 421.7 L778.6 416.7 L790.3 411.7 L805.3 410.8 L813.6 403.3" fill="none" stroke="#5f6f7b" stroke-opacity="0.75" stroke-width="0.7"/>
<path d="M813.6 403.3 L808.4 400.9 L805.2 396.0" fill="none" stroke="#5f6f7b" stroke-opacity="0.75" stroke-width="0.7"/>
<path d="M813.6 403.3 L821.7 406.7 L828.4 411.7 L836.7 413.4 L844.2 415.0 L845.9 421.7 L843.4 430.1 L841.7 436.7 L846.7 441.7 L848.4 448.4 L845.9 458.4 L846.7 463.4 L845.1 466.8 L850.1 473.4 L855.1 478.4 L861.7 480.1 L868.4 480.1 L875.1 483.4 L880.1 488.4 L885.9 489.3 L886.8 496.8 L887.6 500.1 L883.4 505.1" fill="none" stroke="#5f6f7b" stroke-opacity="0.75" stroke-width="0.7"/>
<path d="M883.4 505.1 L886.8 510.1 L889.3 515.1 L888.4 521.8 L893.4 523.5 L900.1 521.0 L906.8 524.3 L915.1 526.0 L923.5 524.3 L927.6 520.1 L928.5 515.1 L933.5 512.6 L940.2 514.3 L946.8 511.8 L953.5 509.3 L959.3 509.3" fill="none" stroke="#5f6f7b" stroke-opacity="0.75" stroke-width="0.7"/>
<path d="M883.4 505.1 L875.1 504.3 L868.4 505.1 L861.7 507.6 L853.4 509.3 L845.9 511.8 L842.6 518.5 L841.7 526.8 L844.2 533.5 L842.6 540.2 L846.7 545.8" fill="none" stroke="#5f6f7b" stroke-opacity="0.75" stroke-width="0.7"/>
<path d="M846.7 545.8 L844.2 555.9 L838.4 554.2 L831.7 551.7 L823.4 549.2 L818.4 544.2 L810.0 541.7 L806.7 536.7 L808.6 531.8 L805.3 523.5 L796.9 513.4 L786.9 510.1 L781.9 506.8 L773.6 505.1" fill="none" stroke="#5f6f7b" stroke-opacity="0.75" stroke-width="0.7"/>
<path d="M846.7 545.8 L850.1 545.8 L858.4 550.0 L863.4 556.7 L861.7 560.0 L853.4 562.5 L846.7 565.0 L844.2 570.0 L846.7 575.0 L838.4 578.4 L835.1 581.7 L829.2 586.7 L831.7 595.1" fill="none" stroke="#5f6f7b" stroke-opacity="0.75" stroke-width="0.7"/>
<path d="M578.4 656.8 L588.4 655.1 L596.7 652.6 L606.7 650.1 L613.4 653.4 L620.1 656.8 L619.2 663.4 L624.3 668.5 L623.4 678.5" fill="none" stroke="#5f6f7b" stroke-opacity="0.75" stroke-width="0.7"/>
<path d="M672.6 654.3 L675.1 654.3 L678.5 650.9 L682.6 651.8 L683.5 656.8 L690.2 656.8 L698.5 656.8 L701.8 650.1" fill="none" stroke="#5f6f7b" stroke-opacity="0.75" stroke-width="0.7"/>
<path d="M701.8 650.1 L701.0 641.8 L699.3 633.4 L698.5 625.1 L698.5 616.7 L705.2 614.2 L713.5 614.2 L716.8 617.6 L721.0 615.1 L720.2 608.4 L728.5 605.1 L731.9 595.0 L738.5 594.2 L745.2 587.5 L746.9 585.0" fill="none" stroke="#5f6f7b" stroke-opacity="0.75" stroke-width="0.7"/>
<path d="M746.9 585.0 L756.9 588.4 L761.9 596.7 L770.2 600.1 L771.9 607.6 L776.1 608.4 L775.2 599.2 L781.9 598.4 L791.9 603.4 L800.3 603.4 L801.1 590.0 L805.3 587.5 L808.6 590.0 L810.3 596.7 L823.6 595.0 L831.7 595.1" fill="none" stroke="#5f6f7b" stroke-opacity="0.75" stroke-width="0.7"/>
<path d="M831.7 595.1 L836.7 600.1 L838.4 602.6" fill="none" stroke="#5f6f7b" stroke-opacity="0.75" stroke-width="0.7"/>
<path d="M662.6 696.0 L666.8 688.5 L671.8 678.5 L674.3 670.1 L673.5 665.1 L671.8 658.4 L672.6 654.3" fill="none" stroke="#5f6f7b" stroke-opacity="0.75" stroke-width="0.7"/>
<path d="M706.7 337.9 L713.4 342.1 L720.1 350.4 L723.4 357.1 L733.4 365.5 L740.1 369.3" fill="none" stroke="#1f2326" stroke-width="1.3" stroke-linecap="round"/>
<path d="M701.8 650.1 L702.7 653.4 L711.8 651.8 L713.5 645.1 L711.8 640.9 L716.8 640.1 L725.2 640.1 L728.5 645.1 L733.5 643.4 L736.9 650.1 L735.2 655.1 L740.2 656.8 L746.9 656.8 L748.5 668.3 L747.6 676.7 L752.7 685.0 L755.2 691.7 L760.2 696.7 L763.5 703.4 L762.7 710.1 L765.2 715.9 L760.2 716.7 L755.2 718.4 L756.8 723.4 L753.5 728.4 L746.8 730.9 L742.6 736.7 L745.1 745.1 L747.6 753.4 L748.5 760.1 L746.8 768.4 L747.6 776.8 L746.8 783.5 L743.5 785.1 L736.8 784.3 L731.8 789.3 L726.8 790.1" fill="none" stroke="#4b6796" stroke-width="0.8"/>
<path d="M735.1 356.8 L740.1 355.1 L745.1 351.8 L750.9 349.3 L751.8 353.4 L748.4 356.8 L755.1 360.1 L760.1 366.8 L756.8 371.8 L753.4 373.5 L748.4 371.8 L743.4 371.8 L740.1 370.1 L736.8 371.0 L734.3 366.8 L735.9 361.8Z" fill="#3d78b4"/>
<path d="M674.2 387.6 L678.4 388.5 L683.4 391.0 L690.1 392.7 L695.9 393.5 L696.7 396.8 L691.7 397.7 L685.0 396.0 L679.2 392.7Z" fill="#4a80b5"/>
<path d="M677.5 359.3 L681.7 358.5 L680.9 363.5 L679.2 367.6 L675.0 368.5 L676.7 364.3Z" fill="#4a80b5"/>
<path d="M889.3 433.4 L893.4 430.1 L896.8 432.6 L901.0 430.1 L903.5 433.4 L902.6 437.6 L906.8 440.1 L911.8 445.1 L912.6 450.1 L909.3 453.4 L906.8 450.1 L898.5 450.9 L893.4 448.4 L885.1 450.1 L884.3 446.7 L886.8 443.4 L888.4 436.7Z" fill="#5f9bc9"/>
</g>
<g class="ml">
<text x="702.5" y="175.4" font-size="11.3" letter-spacing="3.21" class="mc">DÄNEMARK</text>
<text x="492.3" y="421.2" font-size="11.3" letter-spacing="3.13" class="mc">NIEDERLANDE</text>
<text x="483.8" y="594.7" font-size="11.3" letter-spacing="1.67" class="mc">BELGIEN</text>
<text x="528.6" y="643.9" font-size="11.3" letter-spacing="0.25" class="mc">LUXEMBURG</text>
<text x="952.5" y="655.9" font-size="11.3" letter-spacing="3.04" class="mc">TSCHECHIEN</text>
<text x="881.9" y="815.1" font-size="11.3" letter-spacing="3.18" class="mc">ÖSTERREICH</text>
<text x="632.4" y="847.3" font-size="11.3" letter-spacing="1.47" class="mc">SCHWEIZ</text>
<text x="924.5" y="881.0" font-size="10" letter-spacing="1.15" class="mc">SLOWENIEN</text>
<text x="331.5" y="849.9" font-size="13.5" letter-spacing="4.92" class="mc">FRANKREICH</text>
<text x="1115.0" y="711.3" font-size="11.3" letter-spacing="4.20" class="mc">SLOWAKEI</text>
<text x="788.3" y="147.8" font-size="11" letter-spacing="1.29" class="ms">Kattegat</text>
<text x="951.8" y="289.9" font-size="11.5" letter-spacing="1.89" class="ms">Ostsee</text>
<text x="375.0" y="513.8" font-size="11.5" letter-spacing="-0.10" class="ms">Kanal</text>
<text x="677.5" y="523" font-size="14.6" font-weight="bold" letter-spacing="2.62" style="fill:#8b8c8b;stroke:#5a5c5b;stroke-width:1.6px;paint-order:stroke">DEUTSCHLAND</text>
<text x="672.9" y="216.7" font-size="10.26" text-anchor="middle" class="mp">Esbjerg</text>
<text x="859.9" y="200.4" font-size="11.23" text-anchor="middle" class="mp">Kopenhagen</text>
<text x="510.6" y="456.3" font-size="11.37" text-anchor="middle" class="mp">Amsterdam</text>
<text x="484.6" y="477.7" font-size="11.10" text-anchor="middle" class="mp">Den Haag</text>
<text x="491.9" y="489.7" font-size="11.33" text-anchor="middle" class="mp">Rotterdam</text>
<text x="488.3" y="541.2" font-size="11.30" text-anchor="middle" class="mp">Antwerpen</text>
<text x="486.2" y="568.0" font-size="11.04" text-anchor="middle" class="mp">Brüssel</text>
<text x="427.8" y="582.9" font-size="11.69" text-anchor="middle" class="mp">Lille</text>
<text x="567.2" y="655.9" font-size="11.07" text-anchor="middle" class="mp">Luxemburg</text>
<text x="676.5" y="809.1" font-size="11.55" text-anchor="middle" class="mp">Zürich</text>
<text x="721.1" y="825.1" font-size="11.48" text-anchor="middle" class="mp">Vaduz</text>
<text x="626.8" y="837.7" font-size="11.17" text-anchor="middle" class="mp">Bern</text>
<text x="507.8" y="916.6" font-size="11.64" text-anchor="middle" class="mp">Lyon</text>
<text x="944.8" y="623.5" font-size="12.07" text-anchor="middle" class="mp">Prag</text>
<text x="1062.7" y="549.3" font-size="11.41" text-anchor="middle" class="mp">Breslau</text>
<text x="1058.6" y="453.3" font-size="11.00" text-anchor="middle" class="mp">Posen</text>
<text x="1033.1" y="753.5" font-size="12.16" text-anchor="middle" class="mp">Wien</text>
<text x="1034.5" y="784.5" font-size="10.12" text-anchor="middle" class="mp">Mattersburg</text>
<text x="991.1" y="829.6" font-size="10.06" text-anchor="middle" class="mp">Graz</text>
<text x="948.0" y="897.1" font-size="11.19" text-anchor="middle" class="mp">Ljubljana</text>
<text x="382" y="708.7" font-size="11.5">Paris</text>
<text x="1119.4" y="305.4" font-size="11.5">Danzig</text>
<text x="1079.8" y="400.3" font-size="11.7">Bydgoszcz</text>
<text x="1130" y="610.5" font-size="11.5">Kattowitz</text>
<text x="1129" y="801" font-size="11.5">Budapest</text>
<text x="742.9" y="367.2" font-size="11.91" text-anchor="middle" class="mh">Hamburg</text>
<text x="688.8" y="403.0" font-size="10.65" text-anchor="middle" class="mh">Bremen</text>
<text x="731.0" y="456.1" font-size="11.00" text-anchor="middle" class="mh">Hannover</text>
<text x="676.2" y="481.6" font-size="11.03" text-anchor="middle" class="mh">Bielefeld</text>
<text x="606.9" y="523.8" font-size="10.58" text-anchor="middle" class="mh">Essen</text>
<text x="597.0" y="541.1" font-size="11.03" text-anchor="middle" class="mh">Düsseldorf</text>
<text x="604.5" y="560.6" font-size="10.34" text-anchor="middle" class="mh">Köln</text>
<text x="896.9" y="445.7" font-size="12.13" text-anchor="middle" class="mh">Berlin</text>
<text x="851.6" y="531.6" font-size="11.01" text-anchor="middle" class="mh">Leipzig</text>
<text x="913.4" y="553.1" font-size="10.82" text-anchor="middle" class="mh">Dresden</text>
<text x="876.0" y="568.2" font-size="9.76" text-anchor="middle" class="mh">Chemnitz</text>
<text x="682.0" y="614.0" font-size="11.20" text-anchor="middle" class="mh">Frankfurt</text>
<text x="683.1" y="626.9" font-size="10.93" text-anchor="middle" class="mh">am Main</text>
<text x="673.2" y="664.7" font-size="10.75" text-anchor="middle" class="mh">Mannheim</text>
<text x="606.5" y="682.0" font-size="9.91" text-anchor="middle" class="mh">Saarbrücken</text>
<text x="950.3" y="376.7" font-size="10.69" text-anchor="middle" class="mh">Stettin</text>
<text x="791.8" y="666.9" font-size="11.03" text-anchor="middle" class="md">Nürnberg</text>
<text x="705.4" y="714.5" font-size="11.19" text-anchor="middle" class="md">Stuttgart</text>
<text x="814.8" y="758.2" font-size="12.03" text-anchor="middle" class="md">München</text>
</g>
<g stroke="#505251" stroke-width="1.2" fill="none"><path d="M414.5 883 V893 M414.5 888.8 H531 M531 883 V888.8 M508.5 888.8 V894"/></g>
<text x="524.6" y="883" font-size="10.6" font-weight="bold" style="fill:#5e605f">200km</text><text x="503.8" y="904.5" font-size="10.6" font-weight="bold" style="fill:#5e605f">100mi</text>
<rect x="789.6" y="900.4" width="336" height="14.2" fill="#d9d9d9" fill-opacity="0.93"/>
<text x="794" y="911.8" font-size="12.5" fill="#323232" class="ml" style="fill:#323232">GDI-TH, Esri, HERE, Garmin, FAO, NOAA, USGS | GDI-...</text>
<rect x="1097.5" y="837.6" width="30.5" height="56.4" fill="#333" stroke="#454545" stroke-width="1"/>
<path d="M1106.5 852 H1118.5 M1112.5 846 V858 M1106.5 880 H1118.5" stroke="#d0d0d0" stroke-width="1.6" fill="none"/>
<rect x="996.5" y="126.5" width="131.5" height="33" fill="#333" stroke="#454545" stroke-width="1"/>
<g transform="translate(980 70) scale(0.09588)" fill="none" stroke="#d2d2d2" stroke-width="12" stroke-linejoin="miter"><circle cx="330" cy="740" r="56"/><path d="M372 782 L432 836" stroke-width="14"/><path d="M628 845 V757 L700 688 L772 757 V845 H737 V787 H668 V845 Z M652 737 V688 H674 V714" stroke-width="10.5"/><g stroke-width="9"><rect x="963" y="683" width="24" height="24"/><circle cx="975" cy="737" r="12"/><rect x="963" y="766" width="24" height="24"/><path d="M975 808 L988 830 H962 Z"/><path d="M1015 695 H1105 M1015 737 H1105 M1015 778 H1105 M1015 820 H1105"/></g><g stroke-width="9.5"><rect x="1287" y="684" width="64" height="64"/><rect x="1382" y="684" width="64" height="64"/><rect x="1287" y="777" width="64" height="64"/><rect x="1382" y="777" width="64" height="64"/><path d="M1300 697 L1338 735 M1318 735 H1338 V715 M1395 735 L1433 697 M1300 815 L1325 815 L1338 790 M1395 790 L1433 828 M1433 790 L1395 828" stroke-width="6"/></g></g>
</svg>
</div>
<div class="abs" style="left:1126px;top:76px;width:18px;height:18px;border-radius:9px;background:#333;border:1px solid #8a8a8a">
<svg width="16" height="16" viewBox="0 0 16 16"><path d="M3.5 6V3.5H6M10 3.5h2.5V6M12.5 10v2.5H10M6 12.5H3.5V10M3.5 3.5l3 3M12.5 3.5l-3 3M12.5 12.5l-3-3M3.5 12.5l3-3" fill="none" stroke="#aaa" stroke-width="0.9"/></svg></div>

<!-- LOGOS -->
<div class="panel" id="logos">
<svg class="abs" style="left:0;top:0" width="746" height="104" viewBox="389 932 746 104"><defs><linearGradient id="rk" x1="0" x2="1"><stop offset="0" stop-color="#2f95e3"/><stop offset="1" stop-color="#1b62b8"/></linearGradient></defs><rect x="493.7" y="937" width="172.5" height="48" fill="#fff"/><text x="497.62" y="948.9" font-size="11.3" letter-spacing="1.68" fill="url(#rk)" style="font-family:'Liberation Serif',serif">ROBERT KOCH INSTITUT</text><g fill="none" stroke-linecap="round"><path d="M588 962 C600 972 612 976 625 962 C635 952 645 958 652 972 M590 976 C606 962 618 956 630 968 C640 978 648 972 653 958" stroke="#c9d8f2" stroke-width="1.6"/><path d="M601.7 956 V978 M634.6 956 V978" stroke="#2f8be0" stroke-width="0.9"/><path d="M601.8 969 C608 958 620 955 628 961 C633 965 634 972 634.5 976 M601.8 976 C612 978 622 975 628 968 C631 964 633 960 634.5 957" stroke="#1d63c0" stroke-width="1.7"/></g><rect x="669.9" y="937" width="175.2" height="48" fill="#fff"/><text x="671.42" y="979.8" font-size="10.4" letter-spacing="0.02" fill="#9b9b8e">UNIVERSITÄT</text><rect x="743.4" y="970" width="45.1" height="12.2" fill="#f0b323"/><text x="744.51" y="979.8" font-size="10.6" font-weight="bold" letter-spacing="0.47" fill="#fff">BONN</text><rect x="743.4" y="939.1" width="45.1" height="28.5" fill="#94948a"/><path d="M743.4 939.1 H772.2 C768 952 758 961 743.4 963.2Z" fill="#2a5caa"/><path d="M772.2 939.1 C768 952 758 961 743.4 963.2" fill="none" stroke="#fff" stroke-width="1"/><circle cx="810.8" cy="954.5" r="16.2" fill="#9a9ddf"/><path d="M795.5 950 C801 946 806 952 811 949 C816 946 821 951 826 948 M795 956 C801 952 806 958 811 955 C816 952 821 957 826.5 954" fill="none" stroke="#c3c5ee" stroke-width="2.2"/><text x="806" y="967.6" font-size="13.5" font-weight="bold" fill="#fff" letter-spacing="-0.3">ih</text><text x="819.5" y="967.6" font-size="13.5" font-weight="bold" fill="#111" letter-spacing="-0.3">ph</text><text x="794.5" y="976.3" font-size="4.3" fill="#8a8a8a">Institut für Hygiene und</text><text x="794.5" y="982" font-size="4.3" fill="#8a8a8a">Öffentliche Gesundheit</text><rect x="847.8" y="937" width="174.5" height="48" fill="#fff"/><circle cx="875.1" cy="961.1" r="17.3" fill="#fff" stroke="#0b0b0b" stroke-width="1.5"/><g fill="none" stroke="#0b0b0b" stroke-width="0.9"><path d="M860 953 C870 947 882 946 891 951 M858.5 962 C870 955 884 955 892.5 962 M861 971 C871 965 882 965 890 971 M869 945 C864 956 866 970 872 978 M880 944.5 C878 956 880 970 884 977.5"/></g><path d="M879 950 C884 947 890 951 891 958 C892 964 889 970 884 976 C881 972 880 967 877 965 C872 963 874 958 877 956 C878 954 878 952 879 950Z M861 957 C864 954 868 955 869 958 C868 961 864 962 862 965 C860 963 860 960 861 957Z M864 968 C868 966 872 968 874 972 C873 976 870 978 867 977 C865 974 863 971 864 968Z" fill="#0b0b0b"/><text x="896.86" y="971" font-size="35.5" font-weight="bold" letter-spacing="0.38" fill="#0b0b0b">esri</text><path d="M970.9 943.1 V972.8" stroke="#4a4a4a" stroke-width="1.1"/><text x="980.3" y="949.4" font-size="7.1" font-weight="bold" font-style="italic" fill="#222" letter-spacing="0.15">THE</text><text x="980.3" y="956.9" font-size="7.1" font-weight="bold" font-style="italic" fill="#222" letter-spacing="0.15">SCIENCE</text><text x="980.3" y="964.3" font-size="7.1" font-weight="bold" font-style="italic" fill="#222" letter-spacing="0.15">OF</text><text x="980.3" y="971.8" font-size="7.1" font-weight="bold" font-style="italic" fill="#222" letter-spacing="0.15">WHERE</text><rect x="1128.2" y="932" width="6.8" height="104" fill="#454545"/><rect x="1128.2" y="932" width="6.8" height="17" fill="#5c5c5c"/></svg>
</div>

<!-- KPIs -->
<div class="panel kpi" style="left:1146px;top:81px;width:158px;height:157px"><span class="hr"></span></div>
<div class="panel kpi" style="left:1314px;top:81px;width:160px;height:157px"><span class="hr"></span></div>
<div class="panel kpi" style="left:1484px;top:81px;width:174px;height:157px"><span class="hr"></span></div>
<div class="panel kpi" style="left:1668px;top:81px;width:242px;height:157px">
<svg class="abs" style="left:0;top:0" width="240" height="155" viewBox="0 0 240 155"><g transform="translate(9 78) scale(0.11557)"><rect x="35" y="52" width="309" height="301" fill="#2f6fc4"/><rect x="343" y="52" width="308" height="301" fill="#858585"/><rect x="650" y="52" width="309" height="301" fill="#2a8080"/><rect x="958" y="52" width="313" height="301" fill="#f6a520"/><rect x="1270" y="52" width="308" height="301" fill="#696969"/><rect x="1577" y="52" width="311" height="301" fill="#9068ba"/><path d="M80 80 C140 68 205 85 216 118 C216 148 188 166 150 155 C115 140 95 110 80 80Z M310 135 C280 128 245 145 240 176 C262 192 297 170 310 135Z" fill="#fff"/><path d="M190 150 C214 180 226 212 226 252 M248 172 C237 188 231 205 228 222" fill="none" stroke="#fff" stroke-width="9"/><path d="M184 250 H270 L256 282 H200Z" fill="#fff"/><path d="M52 322 C90 280 130 262 176 262 L246 270 C258 276 252 292 240 292 L196 292 L250 296 L303 236 C314 226 328 238 318 250 L266 316 C256 326 240 327 225 327 L142 327 L120 337 L58 337Z" fill="#fff"/><path d="M490 64 C464 64 448 84 448 110 L448 166 L490 210 L530 166 L530 110 C530 84 516 64 490 64Z" fill="#fff"/><circle cx="490" cy="104" r="19" fill="#858585"/><g fill="none" stroke="#fff" stroke-width="9"><path d="M440 330 V282 L495 238 L548 282 V330 Z"/><path d="M345 250 L394 290 V330 H345"/><path d="M650 236 L592 286 V330 H650"/></g><rect x="478" y="298" width="30" height="32" fill="#fff"/><rect x="452" y="290" width="16" height="14" fill="#fff"/><rect x="450" y="240" width="12" height="28" fill="#fff"/><rect x="602" y="240" width="11" height="28" fill="#fff"/><rect x="615" y="292" width="14" height="13" fill="#fff"/><path d="M800 322 L702 218 C672 180 688 110 746 95 C776 88 796 105 800 126 C806 105 830 88 860 95 C916 110 926 180 896 220Z" fill="#fff"/><path d="M650 200 H704" stroke="#fff" stroke-width="8" fill="none"/><path d="M704 200 H716 L732 208 H756 L772 246 L795 122 L806 236 L816 196 H848" stroke="#2a8080" stroke-width="11" fill="none" stroke-linejoin="round"/><circle cx="860" cy="196" r="15" fill="#2a8080"/><defs><pattern id="hat" width="22" height="22" patternUnits="userSpaceOnUse" patternTransform="rotate(-45)"><rect width="22" height="10.5" fill="#fff"/></pattern></defs><path d="M960 182 H1140 V250 H1115 V300 H1085 V353 H960Z" fill="url(#hat)"/><path d="M1196 52 V96 H1232 V126 H1150 V182 H1140 M1140 250 H1200 V300 H1270" fill="none" stroke="#fff" stroke-width="7.5"/><path d="M1386 132 L1412 74 H1512 L1542 132 H1566 V152 H1546 V212 H1500 L1480 160 H1340 L1352 140 H1386Z" fill="#fff"/><path d="M1400 132 L1420 90 H1504 L1524 132Z" fill="#696969"/><circle cx="1514" cy="172" r="14" fill="#696969"/><path d="M1290 238 L1330 164 H1482 L1522 238 V312 H1502 V336 H1456 V312 H1342 V336 H1296 V312 H1290Z" fill="#fff"/><path d="M1318 228 L1344 180 H1468 L1494 228Z" fill="#696969"/><circle cx="1336" cy="270" r="16" fill="#696969"/><circle cx="1472" cy="270" r="16" fill="#696969"/><path d="M1650 127 L1740 70 L1830 127Z" fill="#fff"/><rect x="1662" y="124" width="158" height="16" fill="#fff"/><rect x="1664" y="130" width="22" height="124" fill="#fff"/><rect x="1794" y="130" width="22" height="124" fill="#fff"/><rect x="1686" y="140" width="108" height="112" fill="#8158b0"/><path d="M1740 130 C1714 136 1706 166 1702 200 L1690 216 H1790 L1778 200 C1774 166 1766 136 1740 130Z" fill="#fff"/><circle cx="1740" cy="224" r="9" fill="#fff"/><rect x="1652" y="250" width="176" height="38" fill="#fff"/><rect x="1646" y="286" width="188" height="16" fill="#dccbed"/><rect x="1646" y="292" width="188" height="3" fill="#fff"/><rect x="1646" y="302" width="188" height="51" fill="#fff"/></g></svg>
</div>

<!-- AGE CHART -->
<div class="panel" style="left:1146px;top:248px;width:764px;height:273px">
<svg class="abs" style="left:-1px;top:-1px" width="764" height="273" viewBox="1146 248 764 273">
<line x1="1220.6" x2="1773.8" y1="401.3" y2="401.3" class="grid"/>
<line x1="1220.6" x2="1773.8" y1="355.4" y2="355.4" class="grid"/>
<line x1="1220.6" x2="1773.8" y1="309.4" y2="309.4" class="grid"/>
<line x1="1312.8" x2="1312.8" y1="309.4" y2="447.3" class="grid"/>
<line x1="1405.0" x2="1405.0" y1="309.4" y2="447.3" class="grid"/>
<line x1="1497.2" x2="1497.2" y1="309.4" y2="447.3" class="grid"/>
<line x1="1589.4" x2="1589.4" y1="309.4" y2="447.3" class="grid"/>
<line x1="1681.6" x2="1681.6" y1="309.4" y2="447.3" class="grid"/>
<line x1="1773.8" x2="1773.8" y1="309.4" y2="447.3" class="grid"/>
<rect x="1229.1" y="444.0" width="35" height="3.3" fill="#2e86ab"/>
<rect x="1269.1" y="444.1" width="35" height="3.2" fill="#1b4f78"/>
<rect x="1321.3" y="439.9" width="35" height="7.4" fill="#2e86ab"/>
<rect x="1361.3" y="441.0" width="35" height="6.3" fill="#1b4f78"/>
<rect x="1413.5" y="388.9" width="35" height="58.4" fill="#2e86ab"/>
<rect x="1453.5" y="390.1" width="35" height="57.2" fill="#1b4f78"/>
<rect x="1505.7" y="357.9" width="35" height="89.4" fill="#2e86ab"/>
<rect x="1545.7" y="351.0" width="35" height="96.3" fill="#1b4f78"/>
<rect x="1597.9" y="405.0" width="35" height="42.3" fill="#2e86ab"/>
<rect x="1637.9" y="408.9" width="35" height="38.4" fill="#1b4f78"/>
<rect x="1690.1" y="430.1" width="35" height="17.2" fill="#2e86ab"/>
<rect x="1730.1" y="416.0" width="35" height="31.3" fill="#1b4f78"/>
<line x1="1220.6" x2="1220.6" y1="309.4" y2="447.3" class="axis"/>
<line x1="1214.6" x2="1773.8" y1="447.3" y2="447.3" class="axis"/>
<line x1="1214.6" x2="1220.6" y1="401.3" y2="401.3" class="axis"/>
<line x1="1214.6" x2="1220.6" y1="355.4" y2="355.4" class="axis"/>
<line x1="1214.6" x2="1220.6" y1="309.4" y2="309.4" class="axis"/>
<line x1="1266.7" x2="1266.7" y1="447.3" y2="452.3" class="axis"/>
<line x1="1358.9" x2="1358.9" y1="447.3" y2="452.3" class="axis"/>
<line x1="1451.1" x2="1451.1" y1="447.3" y2="452.3" class="axis"/>
<line x1="1543.3" x2="1543.3" y1="447.3" y2="452.3" class="axis"/>
<line x1="1635.5" x2="1635.5" y1="447.3" y2="452.3" class="axis"/>
<line x1="1727.7" x2="1727.7" y1="447.3" y2="452.3" class="axis"/>
<text x="1207.5" y="452.3" text-anchor="end" class="tick">0</text>
<text x="1207.5" y="406.3" text-anchor="end" class="tick">20,000</text>
<text x="1207.5" y="360.4" text-anchor="end" class="tick">40,000</text>
<text x="1207.5" y="314.4" text-anchor="end" class="tick">60,000</text>
<text x="1266.7" y="471" text-anchor="middle" class="tick">0-4</text>
<text x="1358.9" y="471" text-anchor="middle" class="tick">5-14</text>
<text x="1451.1" y="471" text-anchor="middle" class="tick">15-34</text>
<text x="1543.3" y="471" text-anchor="middle" class="tick">35-59</text>
<text x="1635.5" y="471" text-anchor="middle" class="tick">60-79</text>
<text x="1727.7" y="471" text-anchor="middle" class="tick">80+</text>
<text x="1497" y="497" text-anchor="middle" class="axtitle">Altersgruppe</text>
<circle cx="1820.7" cy="396" r="8" fill="#2e86ab"/><text x="1833" y="400.5" class="leg">Männlich</text>
<circle cx="1820.7" cy="424.3" r="8" fill="#1b4f78"/><text x="1833" y="428.8" class="leg">Weiblich</text>
</svg>
</div>
<div class="tab on" style="left:1159px;top:521px;width:129px"></div>
<div class="tab" style="left:1293px;top:521px;width:241px"></div>

<!-- TIME CHART -->
<div class="panel" style="left:1146px;top:560px;width:764px;height:448px">
<svg class="abs" style="left:-1px;top:-1px" width="764" height="447" viewBox="1146 560 764 447">
<line x1="1213.7" x2="1878.4" y1="831.1" y2="831.1" class="grid"/>
<line x1="1213.7" x2="1878.4" y1="793.0" y2="793.0" class="grid"/>
<line x1="1213.7" x2="1878.4" y1="754.9" y2="754.9" class="grid"/>
<line x1="1213.7" x2="1878.4" y1="716.7" y2="716.7" class="grid"/>
<line x1="1213.7" x2="1878.4" y1="678.5" y2="678.5" class="grid"/>
<line x1="1213.7" x2="1878.4" y1="640.4" y2="640.4" class="grid"/>
<line x1="1378.2" x2="1378.2" y1="640.4" y2="869.3" class="grid"/>
<line x1="1543.4" x2="1543.4" y1="640.4" y2="869.3" class="grid"/>
<line x1="1713.5" x2="1713.5" y1="640.4" y2="869.3" class="grid"/>
<line x1="1878.4" x2="1878.4" y1="640.4" y2="869.3" class="grid"/>
<g shape-rendering="crispEdges">
<rect x="1214" y="858" width="5" height="1" fill="#f2bf4b"/>
<rect x="1214" y="859" width="5" height="10" fill="#1f4ba5"/>
<rect x="1219" y="858" width="5" height="2" fill="#f2bf4b"/>
<rect x="1219" y="860" width="5" height="9" fill="#1f4ba5"/>
<rect x="1225" y="854" width="5" height="2" fill="#f2bf4b"/>
<rect x="1225" y="856" width="5" height="13" fill="#1f4ba5"/>
<rect x="1230" y="852" width="5" height="2" fill="#f2bf4b"/>
<rect x="1230" y="854" width="5" height="15" fill="#1f4ba5"/>
<rect x="1236" y="843" width="5" height="3" fill="#f2bf4b"/>
<rect x="1236" y="846" width="5" height="23" fill="#1f4ba5"/>
<rect x="1241" y="838" width="5" height="2" fill="#f2bf4b"/>
<rect x="1241" y="840" width="5" height="29" fill="#1f4ba5"/>
<rect x="1247" y="827" width="5" height="2" fill="#f2bf4b"/>
<rect x="1247" y="829" width="5" height="40" fill="#1f4ba5"/>
<rect x="1252" y="802" width="5" height="4" fill="#f2bf4b"/>
<rect x="1252" y="806" width="5" height="63" fill="#1f4ba5"/>
<rect x="1258" y="783" width="5" height="6" fill="#f2bf4b"/>
<rect x="1258" y="789" width="5" height="80" fill="#1f4ba5"/>
<rect x="1263" y="761" width="5" height="7" fill="#f2bf4b"/>
<rect x="1263" y="768" width="5" height="101" fill="#1f4ba5"/>
<rect x="1269" y="749" width="5" height="9" fill="#f2bf4b"/>
<rect x="1269" y="758" width="5" height="111" fill="#1f4ba5"/>
<rect x="1274" y="721" width="5" height="13" fill="#f2bf4b"/>
<rect x="1274" y="734" width="5" height="135" fill="#1f4ba5"/>
<rect x="1280" y="721" width="5" height="10" fill="#f2bf4b"/>
<rect x="1280" y="731" width="5" height="138" fill="#1f4ba5"/>
<rect x="1285" y="716" width="5" height="11" fill="#f2bf4b"/>
<rect x="1285" y="727" width="5" height="142" fill="#1f4ba5"/>
<rect x="1291" y="660" width="5" height="20" fill="#f2bf4b"/>
<rect x="1291" y="680" width="5" height="189" fill="#1f4ba5"/>
<rect x="1296" y="681" width="5" height="28" fill="#f2bf4b"/>
<rect x="1296" y="709" width="5" height="160" fill="#1f4ba5"/>
<rect x="1302" y="672" width="5" height="33" fill="#f2bf4b"/>
<rect x="1302" y="705" width="5" height="164" fill="#1f4ba5"/>
<rect x="1307" y="693" width="5" height="34" fill="#f2bf4b"/>
<rect x="1307" y="727" width="5" height="142" fill="#1f4ba5"/>
<rect x="1313" y="671" width="5" height="32" fill="#f2bf4b"/>
<rect x="1313" y="703" width="5" height="166" fill="#1f4ba5"/>
<rect x="1318" y="709" width="5" height="27" fill="#f2bf4b"/>
<rect x="1318" y="736" width="5" height="133" fill="#1f4ba5"/>
<rect x="1324" y="740" width="5" height="19" fill="#f2bf4b"/>
<rect x="1324" y="759" width="5" height="110" fill="#1f4ba5"/>
<rect x="1329" y="681" width="5" height="30" fill="#f2bf4b"/>
<rect x="1329" y="711" width="5" height="158" fill="#1f4ba5"/>
<rect x="1335" y="715" width="5" height="36" fill="#f2bf4b"/>
<rect x="1335" y="751" width="5" height="118" fill="#1f4ba5"/>
<rect x="1340" y="696" width="5" height="43" fill="#f2bf4b"/>
<rect x="1340" y="739" width="5" height="130" fill="#1f4ba5"/>
<rect x="1346" y="705" width="5" height="48" fill="#f2bf4b"/>
<rect x="1346" y="753" width="5" height="116" fill="#1f4ba5"/>
<rect x="1351" y="699" width="5" height="50" fill="#f2bf4b"/>
<rect x="1351" y="749" width="5" height="120" fill="#1f4ba5"/>
<rect x="1357" y="717" width="5" height="40" fill="#f2bf4b"/>
<rect x="1357" y="757" width="5" height="112" fill="#1f4ba5"/>
<rect x="1362" y="753" width="5" height="28" fill="#f2bf4b"/>
<rect x="1362" y="781" width="5" height="88" fill="#1f4ba5"/>
<rect x="1368" y="703" width="5" height="38" fill="#f2bf4b"/>
<rect x="1368" y="741" width="5" height="128" fill="#1f4ba5"/>
<rect x="1373" y="717" width="5" height="57" fill="#f2bf4b"/>
<rect x="1373" y="774" width="5" height="95" fill="#1f4ba5"/>
<rect x="1378" y="698" width="5" height="58" fill="#f2bf4b"/>
<rect x="1378" y="756" width="5" height="113" fill="#1f4ba5"/>
<rect x="1384" y="706" width="5" height="62" fill="#f2bf4b"/>
<rect x="1384" y="768" width="5" height="101" fill="#1f4ba5"/>
<rect x="1389" y="701" width="5" height="65" fill="#f2bf4b"/>
<rect x="1389" y="766" width="5" height="103" fill="#1f4ba5"/>
<rect x="1395" y="743" width="5" height="45" fill="#f2bf4b"/>
<rect x="1395" y="788" width="5" height="81" fill="#1f4ba5"/>
<rect x="1400" y="769" width="5" height="29" fill="#f2bf4b"/>
<rect x="1400" y="798" width="5" height="71" fill="#1f4ba5"/>
<rect x="1406" y="735" width="5" height="42" fill="#f2bf4b"/>
<rect x="1406" y="777" width="5" height="92" fill="#1f4ba5"/>
<rect x="1411" y="736" width="5" height="54" fill="#f2bf4b"/>
<rect x="1411" y="790" width="5" height="79" fill="#1f4ba5"/>
<rect x="1417" y="737" width="5" height="57" fill="#f2bf4b"/>
<rect x="1417" y="794" width="5" height="75" fill="#1f4ba5"/>
<rect x="1422" y="744" width="5" height="55" fill="#f2bf4b"/>
<rect x="1422" y="799" width="5" height="70" fill="#1f4ba5"/>
<rect x="1428" y="771" width="5" height="38" fill="#f2bf4b"/>
<rect x="1428" y="809" width="5" height="60" fill="#1f4ba5"/>
<rect x="1433" y="780" width="5" height="39" fill="#f2bf4b"/>
<rect x="1433" y="819" width="5" height="50" fill="#1f4ba5"/>
<rect x="1439" y="796" width="5" height="24" fill="#f2bf4b"/>
<rect x="1439" y="820" width="5" height="49" fill="#1f4ba5"/>
<rect x="1444" y="801" width="5" height="21" fill="#f2bf4b"/>
<rect x="1444" y="822" width="5" height="47" fill="#1f4ba5"/>
<rect x="1450" y="791" width="5" height="30" fill="#f2bf4b"/>
<rect x="1450" y="821" width="5" height="48" fill="#1f4ba5"/>
<rect x="1455" y="784" width="5" height="37" fill="#f2bf4b"/>
<rect x="1455" y="821" width="5" height="48" fill="#1f4ba5"/>
<rect x="1461" y="786" width="5" height="40" fill="#f2bf4b"/>
<rect x="1461" y="826" width="5" height="43" fill="#1f4ba5"/>
<rect x="1466" y="785" width="5" height="44" fill="#f2bf4b"/>
<rect x="1466" y="829" width="5" height="40" fill="#1f4ba5"/>
<rect x="1472" y="807" width="5" height="28" fill="#f2bf4b"/>
<rect x="1472" y="835" width="5" height="34" fill="#1f4ba5"/>
<rect x="1477" y="820" width="5" height="20" fill="#f2bf4b"/>
<rect x="1477" y="840" width="5" height="29" fill="#1f4ba5"/>
<rect x="1483" y="808" width="5" height="23" fill="#f2bf4b"/>
<rect x="1483" y="831" width="5" height="38" fill="#1f4ba5"/>
<rect x="1488" y="811" width="5" height="28" fill="#f2bf4b"/>
<rect x="1488" y="839" width="5" height="30" fill="#1f4ba5"/>
<rect x="1494" y="803" width="5" height="36" fill="#f2bf4b"/>
<rect x="1494" y="839" width="5" height="30" fill="#1f4ba5"/>
<rect x="1499" y="808" width="5" height="32" fill="#f2bf4b"/>
<rect x="1499" y="840" width="5" height="29" fill="#1f4ba5"/>
<rect x="1505" y="813" width="5" height="30" fill="#f2bf4b"/>
<rect x="1505" y="843" width="5" height="26" fill="#1f4ba5"/>
<rect x="1510" y="826" width="5" height="21" fill="#f2bf4b"/>
<rect x="1510" y="847" width="5" height="22" fill="#1f4ba5"/>
<rect x="1516" y="839" width="5" height="11" fill="#f2bf4b"/>
<rect x="1516" y="850" width="5" height="19" fill="#1f4ba5"/>
<rect x="1521" y="824" width="5" height="19" fill="#f2bf4b"/>
<rect x="1521" y="843" width="5" height="26" fill="#1f4ba5"/>
<rect x="1527" y="828" width="5" height="21" fill="#f2bf4b"/>
<rect x="1527" y="849" width="5" height="20" fill="#1f4ba5"/>
<rect x="1532" y="828" width="5" height="23" fill="#f2bf4b"/>
<rect x="1532" y="851" width="5" height="18" fill="#1f4ba5"/>
<rect x="1538" y="826" width="5" height="22" fill="#f2bf4b"/>
<rect x="1538" y="848" width="5" height="21" fill="#1f4ba5"/>
<rect x="1543" y="836" width="5" height="16" fill="#f2bf4b"/>
<rect x="1543" y="852" width="5" height="17" fill="#1f4ba5"/>
<rect x="1549" y="843" width="5" height="11" fill="#f2bf4b"/>
<rect x="1549" y="854" width="5" height="15" fill="#1f4ba5"/>
<rect x="1554" y="846" width="5" height="8" fill="#f2bf4b"/>
<rect x="1554" y="854" width="5" height="15" fill="#1f4ba5"/>
<rect x="1560" y="838" width="5" height="12" fill="#f2bf4b"/>
<rect x="1560" y="850" width="5" height="19" fill="#1f4ba5"/>
<rect x="1565" y="834" width="5" height="18" fill="#f2bf4b"/>
<rect x="1565" y="852" width="5" height="17" fill="#1f4ba5"/>
<rect x="1571" y="834" width="5" height="20" fill="#f2bf4b"/>
<rect x="1571" y="854" width="5" height="15" fill="#1f4ba5"/>
<rect x="1576" y="837" width="5" height="18" fill="#f2bf4b"/>
<rect x="1576" y="855" width="5" height="14" fill="#1f4ba5"/>
<rect x="1582" y="838" width="5" height="18" fill="#f2bf4b"/>
<rect x="1582" y="856" width="5" height="13" fill="#1f4ba5"/>
<rect x="1587" y="846" width="5" height="12" fill="#f2bf4b"/>
<rect x="1587" y="858" width="5" height="11" fill="#1f4ba5"/>
<rect x="1593" y="852" width="5" height="7" fill="#f2bf4b"/>
<rect x="1593" y="859" width="5" height="10" fill="#1f4ba5"/>
<rect x="1598" y="843" width="5" height="13" fill="#f2bf4b"/>
<rect x="1598" y="856" width="5" height="13" fill="#1f4ba5"/>
<rect x="1604" y="845" width="5" height="13" fill="#f2bf4b"/>
<rect x="1604" y="858" width="5" height="11" fill="#1f4ba5"/>
<rect x="1609" y="843" width="5" height="16" fill="#f2bf4b"/>
<rect x="1609" y="859" width="5" height="10" fill="#1f4ba5"/>
<rect x="1615" y="845" width="5" height="16" fill="#f2bf4b"/>
<rect x="1615" y="861" width="5" height="8" fill="#1f4ba5"/>
<rect x="1620" y="841" width="5" height="15" fill="#f2bf4b"/>
<rect x="1620" y="856" width="5" height="13" fill="#1f4ba5"/>
<rect x="1626" y="850" width="5" height="9" fill="#f2bf4b"/>
<rect x="1626" y="859" width="5" height="10" fill="#1f4ba5"/>
<rect x="1631" y="853" width="5" height="9" fill="#f2bf4b"/>
<rect x="1631" y="862" width="5" height="7" fill="#1f4ba5"/>
<rect x="1637" y="845" width="5" height="12" fill="#f2bf4b"/>
<rect x="1637" y="857" width="5" height="12" fill="#1f4ba5"/>
<rect x="1642" y="849" width="5" height="13" fill="#f2bf4b"/>
<rect x="1642" y="862" width="5" height="7" fill="#1f4ba5"/>
<rect x="1648" y="842" width="5" height="16" fill="#f2bf4b"/>
<rect x="1648" y="858" width="5" height="11" fill="#1f4ba5"/>
<rect x="1653" y="854" width="5" height="9" fill="#f2bf4b"/>
<rect x="1653" y="863" width="5" height="6" fill="#1f4ba5"/>
<rect x="1659" y="852" width="5" height="10" fill="#f2bf4b"/>
<rect x="1659" y="862" width="5" height="7" fill="#1f4ba5"/>
<rect x="1664" y="856" width="5" height="7" fill="#f2bf4b"/>
<rect x="1664" y="863" width="5" height="6" fill="#1f4ba5"/>
<rect x="1670" y="858" width="5" height="5" fill="#f2bf4b"/>
<rect x="1670" y="863" width="5" height="6" fill="#1f4ba5"/>
<rect x="1675" y="852" width="5" height="8" fill="#f2bf4b"/>
<rect x="1675" y="860" width="5" height="9" fill="#1f4ba5"/>
<rect x="1681" y="848" width="5" height="14" fill="#f2bf4b"/>
<rect x="1681" y="862" width="5" height="7" fill="#1f4ba5"/>
<rect x="1686" y="848" width="5" height="12" fill="#f2bf4b"/>
<rect x="1686" y="860" width="5" height="9" fill="#1f4ba5"/>
<rect x="1692" y="852" width="5" height="10" fill="#f2bf4b"/>
<rect x="1692" y="862" width="5" height="7" fill="#1f4ba5"/>
<rect x="1697" y="855" width="5" height="8" fill="#f2bf4b"/>
<rect x="1697" y="863" width="5" height="6" fill="#1f4ba5"/>
<rect x="1703" y="856" width="5" height="8" fill="#f2bf4b"/>
<rect x="1703" y="864" width="5" height="5" fill="#1f4ba5"/>
<rect x="1708" y="861" width="5" height="4" fill="#f2bf4b"/>
<rect x="1708" y="865" width="5" height="4" fill="#1f4ba5"/>
<rect x="1714" y="860" width="5" height="4" fill="#f2bf4b"/>
<rect x="1714" y="864" width="5" height="5" fill="#1f4ba5"/>
<rect x="1719" y="856" width="5" height="6" fill="#f2bf4b"/>
<rect x="1719" y="862" width="5" height="7" fill="#1f4ba5"/>
<rect x="1725" y="851" width="5" height="11" fill="#f2bf4b"/>
<rect x="1725" y="862" width="5" height="7" fill="#1f4ba5"/>
<rect x="1730" y="852" width="5" height="11" fill="#f2bf4b"/>
<rect x="1730" y="863" width="5" height="6" fill="#1f4ba5"/>
<rect x="1736" y="855" width="5" height="9" fill="#f2bf4b"/>
<rect x="1736" y="864" width="5" height="5" fill="#1f4ba5"/>
<rect x="1741" y="859" width="5" height="5" fill="#f2bf4b"/>
<rect x="1741" y="864" width="5" height="5" fill="#1f4ba5"/>
<rect x="1747" y="862" width="5" height="4" fill="#f2bf4b"/>
<rect x="1747" y="866" width="5" height="3" fill="#1f4ba5"/>
<rect x="1752" y="855" width="5" height="7" fill="#f2bf4b"/>
<rect x="1752" y="862" width="5" height="7" fill="#1f4ba5"/>
<rect x="1758" y="854" width="5" height="9" fill="#f2bf4b"/>
<rect x="1758" y="863" width="5" height="6" fill="#1f4ba5"/>
<rect x="1763" y="851" width="5" height="11" fill="#f2bf4b"/>
<rect x="1763" y="862" width="5" height="7" fill="#1f4ba5"/>
<rect x="1768" y="858" width="5" height="6" fill="#f2bf4b"/>
<rect x="1768" y="864" width="5" height="5" fill="#1f4ba5"/>
<rect x="1774" y="856" width="5" height="8" fill="#f2bf4b"/>
<rect x="1774" y="864" width="5" height="5" fill="#1f4ba5"/>
<rect x="1779" y="856" width="5" height="7" fill="#f2bf4b"/>
<rect x="1779" y="863" width="5" height="6" fill="#1f4ba5"/>
<rect x="1785" y="860" width="5" height="5" fill="#f2bf4b"/>
<rect x="1785" y="865" width="5" height="4" fill="#1f4ba5"/>
<rect x="1790" y="854" width="5" height="6" fill="#f2bf4b"/>
<rect x="1790" y="860" width="5" height="9" fill="#1f4ba5"/>
<rect x="1796" y="830" width="5" height="11" fill="#f2bf4b"/>
<rect x="1796" y="841" width="5" height="28" fill="#1f4ba5"/>
<rect x="1801" y="844" width="5" height="14" fill="#f2bf4b"/>
<rect x="1801" y="858" width="5" height="11" fill="#1f4ba5"/>
<rect x="1807" y="848" width="5" height="14" fill="#f2bf4b"/>
<rect x="1807" y="862" width="5" height="7" fill="#1f4ba5"/>
<rect x="1812" y="844" width="5" height="17" fill="#f2bf4b"/>
<rect x="1812" y="861" width="5" height="8" fill="#1f4ba5"/>
<rect x="1818" y="853" width="5" height="10" fill="#f2bf4b"/>
<rect x="1818" y="863" width="5" height="6" fill="#1f4ba5"/>
<rect x="1823" y="857" width="5" height="8" fill="#f2bf4b"/>
<rect x="1823" y="865" width="5" height="4" fill="#1f4ba5"/>
<rect x="1829" y="852" width="5" height="12" fill="#f2bf4b"/>
<rect x="1829" y="864" width="5" height="5" fill="#1f4ba5"/>
<rect x="1834" y="851" width="5" height="14" fill="#f2bf4b"/>
<rect x="1834" y="865" width="5" height="4" fill="#1f4ba5"/>
<rect x="1840" y="854" width="5" height="10" fill="#f2bf4b"/>
<rect x="1840" y="864" width="5" height="5" fill="#1f4ba5"/>
<rect x="1845" y="853" width="5" height="14" fill="#f2bf4b"/>
<rect x="1845" y="867" width="5" height="2" fill="#1f4ba5"/>
<rect x="1851" y="854" width="5" height="13" fill="#f2bf4b"/>
<rect x="1851" y="867" width="5" height="2" fill="#1f4ba5"/>
<rect x="1856" y="860" width="5" height="8" fill="#f2bf4b"/>
<rect x="1856" y="868" width="5" height="1" fill="#1f4ba5"/>
<rect x="1862" y="863" width="5" height="6" fill="#f2bf4b"/>
<rect x="1867" y="859" width="5" height="10" fill="#f2bf4b"/>
<rect x="1873" y="861" width="5" height="8" fill="#f2bf4b"/>
</g>
<line x1="1213.7" x2="1213.7" y1="640.4" y2="869.3" class="axis"/>
<line x1="1207.7" x2="1878.4" y1="869.3" y2="869.3" stroke="#9a9a9a" stroke-opacity="0.75" stroke-width="1"/>
<line x1="1207.7" x2="1213.7" y1="831.1" y2="831.1" class="axis"/>
<line x1="1207.7" x2="1213.7" y1="793.0" y2="793.0" class="axis"/>
<line x1="1207.7" x2="1213.7" y1="754.9" y2="754.9" class="axis"/>
<line x1="1207.7" x2="1213.7" y1="716.7" y2="716.7" class="axis"/>
<line x1="1207.7" x2="1213.7" y1="678.5" y2="678.5" class="axis"/>
<line x1="1207.7" x2="1213.7" y1="640.4" y2="640.4" class="axis"/>
<line x1="1378.2" x2="1378.2" y1="869.3" y2="874.3" class="axis"/>
<line x1="1543.4" x2="1543.4" y1="869.3" y2="874.3" class="axis"/>
<line x1="1713.5" x2="1713.5" y1="869.3" y2="874.3" class="axis"/>
<line x1="1878.4" x2="1878.4" y1="869.3" y2="874.3" class="axis"/>
<text x="1201" y="874.2" text-anchor="end" class="tick">0</text>
<text x="1201" y="836.0" text-anchor="end" class="tick">1,000</text>
<text x="1201" y="797.9" text-anchor="end" class="tick">2,000</text>
<text x="1201" y="759.8" text-anchor="end" class="tick">3,000</text>
<text x="1201" y="721.6" text-anchor="end" class="tick">4,000</text>
<text x="1201" y="683.4" text-anchor="end" class="tick">5,000</text>
<text x="1201" y="645.3" text-anchor="end" class="tick">6,000</text>
<text x="1293" y="888" text-anchor="middle" class="tick">Mar</text>
<text x="1463" y="888" text-anchor="middle" class="tick">Apr</text>
<text x="1628" y="888" text-anchor="middle" class="tick">May</text>
<text x="1798" y="888" text-anchor="middle" class="tick">Jun</text>
<circle cx="1434" cy="926" r="8" fill="#1f4ba5"/><text x="1446" y="930.5" class="leg">Erkrankungsdatum</text>
<circle cx="1563" cy="926" r="8" fill="#f2bf4b"/><text x="1575" y="930.5" class="leg">Meldedatum</text>
</svg>
</div>
<div class="tab on" style="left:1159px;top:1008px;width:150px"></div>
<div class="tab" style="left:1314px;top:1008px;width:138px"></div>
<div class="tab" style="left:1457px;top:1008px;width:107px"></div>
<div class="tab" style="left:1569px;top:1008px;width:165px"></div>
<div class="tab" style="left:1739px;top:1008px;width:84px"></div>
<div class="abs" style="left:1920px;top:0;width:1px;height:1043px;background:#f9e9bc"></div>
<!-- TEXT LAYER -->
<div class="t" style="left:23.65px;top:25.08px;font-size:24px;letter-spacing:0.000px;color:#fff;transform:scaleX(1.0151);transform-origin:0 50%;">Robert Koch-Institut: COVID-19-Dashboard</div>
<div class="t" style="left:1231.06px;top:32.00px;font-size:16.5px;letter-spacing:0.000px;color:#fff;transform:scaleX(1.0118);transform-origin:0 50%;">Bundesländer</div>
<div class="t" style="left:1506.19px;top:32.00px;font-size:16.5px;letter-spacing:0.000px;color:#cfcfcf;transform:scaleX(0.9923);transform-origin:0 50%;">Landkreise</div>
<div class="t" style="left:105.01px;top:96.18px;font-size:15px;letter-spacing:-0.000px;color:#fff;transform:scaleX(1.0294);transform-origin:0 50%;font-weight:bold;">Auswahl pro Bundesland</div>
<div class="t" style="left:137.42px;top:121.99px;font-size:8.8px;letter-spacing:0.000px;color:#fff;transform:scaleX(1.0997);transform-origin:0 50%;font-weight:bold;">(<span style="color:#3db5ef;font-weight:normal;font-size:96%;-webkit-text-stroke:0.25px #3db5ef">Covid-19-Fälle</span> |<span style="color:#5a5a5a;font-weight:normal;font-size:107%;margin-left:1px">Todesfälle</span>)</div>
<div class="t" style="left:28.05px;top:148.89px;font-size:15.2px;letter-spacing:0.392px;color:#41b8f4;transform:scaleX(1.1000);transform-origin:0 50%;font-weight:bold;">48,480</div>
<div class="t" style="left:108.06px;top:148.89px;font-size:15.2px;letter-spacing:0.330px;color:#5d5d5d;transform:scaleX(1.1000);transform-origin:0 50%;-webkit-text-stroke:0.3px #5d5d5d;">2,594</div>
<div class="t" style="left:165.58px;top:149.08px;font-size:15px;letter-spacing:0.000px;color:#fff;transform:scaleX(1.0413);transform-origin:0 50%;font-weight:bold;">Bayern</div>
<div class="t" style="left:28.05px;top:178.89px;font-size:15.2px;letter-spacing:0.392px;color:#41b8f4;transform:scaleX(1.1000);transform-origin:0 50%;font-weight:bold;">43,242</div>
<div class="t" style="left:107.98px;top:178.89px;font-size:15.2px;letter-spacing:0.330px;color:#5d5d5d;transform:scaleX(1.1000);transform-origin:0 50%;-webkit-text-stroke:0.3px #5d5d5d;">1,683</div>
<div class="t" style="left:165.57px;top:179.08px;font-size:15px;letter-spacing:0.033px;color:#fff;transform:scaleX(1.0600);transform-origin:0 50%;font-weight:bold;">Nordrhein-Westfalen</div>
<div class="t" style="left:27.97px;top:208.89px;font-size:15.2px;letter-spacing:0.392px;color:#41b8f4;transform:scaleX(1.1000);transform-origin:0 50%;font-weight:bold;">35,694</div>
<div class="t" style="left:107.98px;top:208.89px;font-size:15.2px;letter-spacing:0.330px;color:#5d5d5d;transform:scaleX(1.1000);transform-origin:0 50%;-webkit-text-stroke:0.3px #5d5d5d;">1,838</div>
<div class="t" style="left:165.57px;top:209.08px;font-size:15px;letter-spacing:0.092px;color:#fff;transform:scaleX(1.0600);transform-origin:0 50%;font-weight:bold;">Baden-Württemberg</div>
<div class="t" style="left:27.30px;top:238.89px;font-size:15.2px;letter-spacing:0.392px;color:#41b8f4;transform:scaleX(1.1000);transform-origin:0 50%;font-weight:bold;">13,577</div>
<div class="t" style="left:115.58px;top:238.89px;font-size:15.2px;letter-spacing:0.330px;color:#5d5d5d;transform:scaleX(1.1000);transform-origin:0 50%;-webkit-text-stroke:0.3px #5d5d5d;">629</div>
<div class="t" style="left:165.58px;top:239.08px;font-size:15px;letter-spacing:0.000px;color:#fff;transform:scaleX(1.0424);transform-origin:0 50%;font-weight:bold;">Niedersachsen</div>
<div class="t" style="left:27.30px;top:268.89px;font-size:15.2px;letter-spacing:0.392px;color:#41b8f4;transform:scaleX(1.1000);transform-origin:0 50%;font-weight:bold;">10,811</div>
<div class="t" style="left:115.66px;top:268.89px;font-size:15.2px;letter-spacing:0.330px;color:#5d5d5d;transform:scaleX(1.1000);transform-origin:0 50%;-webkit-text-stroke:0.3px #5d5d5d;">507</div>
<div class="t" style="left:165.58px;top:269.08px;font-size:15px;letter-spacing:-0.000px;color:#fff;transform:scaleX(1.0418);transform-origin:0 50%;font-weight:bold;">Hessen</div>
<div class="t" style="left:27.80px;top:298.89px;font-size:15.2px;letter-spacing:0.392px;color:#41b8f4;transform:scaleX(1.1000);transform-origin:0 50%;font-weight:bold;">8,243</div>
<div class="t" style="left:115.41px;top:298.89px;font-size:15.2px;letter-spacing:0.330px;color:#5d5d5d;transform:scaleX(1.1000);transform-origin:0 50%;-webkit-text-stroke:0.3px #5d5d5d;">214</div>
<div class="t" style="left:165.57px;top:299.08px;font-size:15px;letter-spacing:-0.000px;color:#fff;transform:scaleX(1.0529);transform-origin:0 50%;font-weight:bold;">Berlin</div>
<div class="t" style="left:27.63px;top:328.89px;font-size:15.2px;letter-spacing:0.392px;color:#41b8f4;transform:scaleX(1.1000);transform-origin:0 50%;font-weight:bold;">7,022</div>
<div class="t" style="left:115.53px;top:328.89px;font-size:15.2px;letter-spacing:0.330px;color:#5d5d5d;transform:scaleX(1.1000);transform-origin:0 50%;-webkit-text-stroke:0.3px #5d5d5d;">235</div>
<div class="t" style="left:165.58px;top:329.08px;font-size:15px;letter-spacing:-0.000px;color:#fff;transform:scaleX(1.0414);transform-origin:0 50%;font-weight:bold;">Rheinland-Pfalz</div>
<div class="t" style="left:27.80px;top:358.89px;font-size:15.2px;letter-spacing:0.392px;color:#41b8f4;transform:scaleX(1.1000);transform-origin:0 50%;font-weight:bold;">5,451</div>
<div class="t" style="left:115.53px;top:358.89px;font-size:15.2px;letter-spacing:0.330px;color:#5d5d5d;transform:scaleX(1.1000);transform-origin:0 50%;-webkit-text-stroke:0.3px #5d5d5d;">223</div>
<div class="t" style="left:166.15px;top:359.08px;font-size:15px;letter-spacing:0.000px;color:#fff;transform:scaleX(0.9938);transform-origin:0 50%;font-weight:bold;">Sachsen</div>
<div class="t" style="left:27.80px;top:388.89px;font-size:15.2px;letter-spacing:0.392px;color:#41b8f4;transform:scaleX(1.1000);transform-origin:0 50%;font-weight:bold;">5,204</div>
<div class="t" style="left:115.58px;top:388.89px;font-size:15.2px;letter-spacing:0.330px;color:#5d5d5d;transform:scaleX(1.1000);transform-origin:0 50%;-webkit-text-stroke:0.3px #5d5d5d;">259</div>
<div class="t" style="left:165.57px;top:389.08px;font-size:15px;letter-spacing:0.262px;color:#fff;transform:scaleX(1.0600);transform-origin:0 50%;font-weight:bold;">Hamburg</div>
<div class="t" style="left:27.97px;top:418.89px;font-size:15.2px;letter-spacing:0.392px;color:#41b8f4;transform:scaleX(1.1000);transform-origin:0 50%;font-weight:bold;">3,440</div>
<div class="t" style="left:115.32px;top:418.89px;font-size:15.2px;letter-spacing:0.330px;color:#5d5d5d;transform:scaleX(1.1000);transform-origin:0 50%;-webkit-text-stroke:0.3px #5d5d5d;">165</div>
<div class="t" style="left:165.57px;top:419.08px;font-size:15px;letter-spacing:0.000px;color:#fff;transform:scaleX(1.0556);transform-origin:0 50%;font-weight:bold;">Brandenburg</div>
<div class="t" style="left:27.97px;top:448.89px;font-size:15.2px;letter-spacing:0.392px;color:#41b8f4;transform:scaleX(1.1000);transform-origin:0 50%;font-weight:bold;">3,253</div>
<div class="t" style="left:115.37px;top:448.89px;font-size:15.2px;letter-spacing:0.330px;color:#5d5d5d;transform:scaleX(1.1000);transform-origin:0 50%;-webkit-text-stroke:0.3px #5d5d5d;">181</div>
<div class="t" style="left:166.44px;top:449.08px;font-size:15px;letter-spacing:0.000px;color:#fff;transform:scaleX(1.0370);transform-origin:0 50%;font-weight:bold;">Thüringen</div>
<div class="t" style="left:27.97px;top:478.89px;font-size:15.2px;letter-spacing:0.392px;color:#41b8f4;transform:scaleX(1.1000);transform-origin:0 50%;font-weight:bold;">3,159</div>
<div class="t" style="left:115.37px;top:478.89px;font-size:15.2px;letter-spacing:0.330px;color:#5d5d5d;transform:scaleX(1.1000);transform-origin:0 50%;-webkit-text-stroke:0.3px #5d5d5d;">152</div>
<div class="t" style="left:166.14px;top:479.08px;font-size:15px;letter-spacing:0.000px;color:#fff;transform:scaleX(1.0264);transform-origin:0 50%;font-weight:bold;">Schleswig-Holstein</div>
<div class="t" style="left:27.71px;top:508.89px;font-size:15.2px;letter-spacing:0.392px;color:#41b8f4;transform:scaleX(1.1000);transform-origin:0 50%;font-weight:bold;">2,806</div>
<div class="t" style="left:115.32px;top:508.89px;font-size:15.2px;letter-spacing:0.330px;color:#5d5d5d;transform:scaleX(1.1000);transform-origin:0 50%;-webkit-text-stroke:0.3px #5d5d5d;">173</div>
<div class="t" style="left:166.13px;top:509.08px;font-size:15px;letter-spacing:0.000px;color:#fff;transform:scaleX(1.0412);transform-origin:0 50%;font-weight:bold;">Saarland</div>
<div class="t" style="left:27.30px;top:538.89px;font-size:15.2px;letter-spacing:0.392px;color:#41b8f4;transform:scaleX(1.1000);transform-origin:0 50%;font-weight:bold;">1,873</div>
<div class="t" style="left:120.48px;top:538.89px;font-size:15.2px;letter-spacing:0.330px;color:#5d5d5d;transform:scaleX(1.1000);transform-origin:0 50%;-webkit-text-stroke:0.3px #5d5d5d;">59</div>
<div class="t" style="left:166.14px;top:539.08px;font-size:15px;letter-spacing:0.000px;color:#fff;transform:scaleX(1.0166);transform-origin:0 50%;font-weight:bold;">Sachsen-Anhalt</div>
<div class="t" style="left:27.30px;top:568.89px;font-size:15.2px;letter-spacing:0.392px;color:#41b8f4;transform:scaleX(1.1000);transform-origin:0 50%;font-weight:bold;">1,667</div>
<div class="t" style="left:120.44px;top:568.89px;font-size:15.2px;letter-spacing:0.330px;color:#5d5d5d;transform:scaleX(1.1000);transform-origin:0 50%;-webkit-text-stroke:0.3px #5d5d5d;">53</div>
<div class="t" style="left:165.57px;top:569.08px;font-size:15px;letter-spacing:0.011px;color:#fff;transform:scaleX(1.0600);transform-origin:0 50%;font-weight:bold;">Bremen</div>
<div class="t" style="left:27.80px;top:598.89px;font-size:15.2px;letter-spacing:0.392px;color:#41b8f4;transform:scaleX(1.1000);transform-origin:0 50%;font-weight:bold;">803</div>
<div class="t" style="left:120.31px;top:598.89px;font-size:15.2px;letter-spacing:0.330px;color:#5d5d5d;transform:scaleX(1.1000);transform-origin:0 50%;-webkit-text-stroke:0.3px #5d5d5d;">20</div>
<div class="t" style="left:165.57px;top:599.08px;font-size:15px;letter-spacing:0.043px;color:#fff;transform:scaleX(1.0600);transform-origin:0 50%;font-weight:bold;">Mecklenburg-Vorpommern</div>
<div class="t" style="left:153.95px;top:946.18px;font-size:15px;letter-spacing:-0.000px;color:#fff;transform:scaleX(1.0724);transform-origin:0 50%;font-weight:bold;">Datenstand</div>
<div class="t" style="left:128.50px;top:989.60px;font-size:14px;letter-spacing:0.000px;color:#fff;transform:scaleX(1.0255);transform-origin:0 50%;">01.07.2020, 00:00 Uhr</div>
<div class="t" style="left:626.87px;top:95.72px;font-size:14.3px;letter-spacing:0.315px;color:#fff;transform:scaleX(1.1000);transform-origin:0 50%;font-weight:bold;">COVID-19-Fälle/100.000 Einwohner</div>
<div class="t" style="left:393.46px;top:1000.73px;font-size:22px;letter-spacing:0.000px;color:#d2d2d2;transform:scaleX(1.0054);transform-origin:0 50%;font-weight:bold;">Datenschutzerklärung &amp; Impressum</div>
<div class="t" style="left:1186.78px;top:95.06px;font-size:9.7px;letter-spacing:0.000px;color:#fff;transform:scaleX(1.0936);transform-origin:0 50%;font-weight:bold;">COVID-19-Fälle</div>
<div class="t" style="left:1167.59px;top:107.76px;font-size:27.5px;letter-spacing:0.669px;color:#41b8f4;transform:scaleX(1.1000);transform-origin:0 50%;font-weight:bold;">194,725</div>
<div class="t" style="left:1167.90px;top:141.33px;font-size:14.4px;letter-spacing:0.000px;color:#2c84a9;transform:scaleX(1.0339);transform-origin:0 50%;">aus total 194,725</div>
<div class="t" style="left:1174.96px;top:172.95px;font-size:35px;letter-spacing:0.814px;color:#e69b1f;transform:scaleX(1.1000);transform-origin:0 50%;font-weight:bold;">+ 466</div>
<div class="t" style="left:1176.75px;top:216.73px;font-size:17px;letter-spacing:0.196px;color:#fff;transform:scaleX(1.1000);transform-origin:0 50%;">zum Vortag</div>
<div class="t" style="left:1335.19px;top:94.46px;font-size:11px;letter-spacing:0.152px;color:#fff;transform:scaleX(1.1000);transform-origin:0 50%;">COVID-19-Todesfälle</div>
<div class="t" style="left:1360.95px;top:110.19px;font-size:22.8px;letter-spacing:0.632px;color:#dcdcdc;transform:scaleX(1.1000);transform-origin:0 50%;font-weight:bold;">8,985</div>
<div class="t" style="left:1335.71px;top:139.23px;font-size:15.7px;letter-spacing:0.181px;color:#9a9a9a;transform:scaleX(1.1000);transform-origin:0 50%;">aus total 8,985</div>
<div class="t" style="left:1354.72px;top:173.03px;font-size:36px;letter-spacing:0.077px;color:#8c8c8c;transform:scaleX(1.1000);transform-origin:0 50%;-webkit-text-stroke:0.6px #8c8c8c;">+ 12</div>
<div class="t" style="left:1344.43px;top:215.47px;font-size:17.4px;letter-spacing:0.208px;color:#fff;transform:scaleX(1.1000);transform-origin:0 50%;">zum Vortag</div>
<div class="t" style="left:1505.17px;top:89.98px;font-size:13.8px;letter-spacing:0.000px;color:#fff;transform:scaleX(1.0616);transform-origin:0 50%;">Covid-19-Genesene</div>
<div class="t" style="left:1506.46px;top:108.54px;font-size:26px;letter-spacing:1.243px;color:#4aa50a;transform:scaleX(1.1000);transform-origin:0 50%;font-weight:bold;">~179,800</div>
<div class="t" style="left:1513.30px;top:141.17px;font-size:17.4px;letter-spacing:0.000px;color:#4aa50a;transform:scaleX(1.0953);transform-origin:0 50%;">von ~179,800</div>
<div class="t" style="left:1507.88px;top:172.31px;font-size:34.5px;letter-spacing:1.422px;color:#4aa50a;transform:scaleX(1.1000);transform-origin:0 50%;font-weight:bold;">+ ~700</div>
<div class="t" style="left:1522.04px;top:215.75px;font-size:17.2px;letter-spacing:0.207px;color:#fff;transform:scaleX(1.1000);transform-origin:0 50%;">zum Vortag</div>
<div class="t" style="left:1678.60px;top:89.04px;font-size:12px;letter-spacing:0.000px;color:#f2f2f2;transform:scaleX(1.0375);transform-origin:0 50%;">Kombination, Analyse &amp; Kommunikation</div>
<div class="t" style="left:1695.70px;top:106.24px;font-size:12px;letter-spacing:0.000px;color:#f2f2f2;transform:scaleX(1.0228);transform-origin:0 50%;">relevanter Daten zum Coronavirus</div>
<div class="t" style="left:1682.12px;top:131.77px;font-size:12.3px;letter-spacing:0.000px;color:#3a8be8;transform:scaleX(0.9925);transform-origin:0 50%;">Erkunden Sie den NPGEO Corona Hub</div>
<div class="t" style="left:1362.75px;top:264.35px;font-size:13.4px;letter-spacing:0.000px;color:#fff;transform:scaleX(1.0235);transform-origin:0 50%;font-weight:bold;">COVID-19-Fälle nach Altersgruppe und Geschlecht</div>
<div class="t" style="left:1258.38px;top:574.81px;font-size:14.2px;letter-spacing:0.078px;color:#fff;font-weight:bold;transform:scaleX(1.1000);transform-origin:0 50%;">COVID-19-Fälle/Tag nach <span style="text-decoration:underline;text-underline-offset:1.5px">Erkrankungsbeginn</span>, ersatzweise Meldedatum*</div>
<div class="t" style="left:1416.31px;top:598.86px;font-size:11px;letter-spacing:-0.000px;color:#d6d6d6;transform:scaleX(1.0654);transform-origin:0 50%;font-weight:bold;">(Übermittlungsverzug, siehe Disclaimer)</div>
<div class="t" style="left:1152.05px;top:966.38px;font-size:10px;letter-spacing:0.000px;color:#cfcfcf;">* Bei Fällen ohne Angaben zum Erkrankungsbeginn (Erkrankungsbeginn unbekannt bzw. Fälle ohne Symptome) wird ersatzweise das Meldedatum verwendet. Die</div>
<div class="t" style="left:1151.80px;top:987.58px;font-size:10px;letter-spacing:0.000px;color:#cfcfcf;transform:scaleX(1.0068);transform-origin:0 50%;">abnehmende Fallzahl über die letzten Tage kann durch den Melde- und Übermittlungsverzug bedingt sein.</div>
<div class="t" style="left:1170.26px;top:526.89px;font-size:12.6px;letter-spacing:0.000px;color:#fff;transform:scaleX(1.0355);transform-origin:0 50%;">Fälle Altersgruppe</div>
<div class="t" style="left:1303.97px;top:526.89px;font-size:12.6px;letter-spacing:0.000px;color:#fff;transform:scaleX(1.0212);transform-origin:0 50%;">Fälle Altersgruppe/100.000 Einwohner</div>
<div class="t" style="left:1170.69px;top:1013.59px;font-size:12.6px;letter-spacing:0.000px;color:#fff;">Fälle/Tag (Erkrankung)</div>
<div class="t" style="left:1325.96px;top:1013.59px;font-size:12.6px;letter-spacing:0.000px;color:#fff;transform:scaleX(1.0308);transform-origin:0 50%;">Fälle/Tag (Meldung)</div>
<div class="t" style="left:1468.27px;top:1013.59px;font-size:12.6px;letter-spacing:0.000px;color:#fff;transform:scaleX(1.0207);transform-origin:0 50%;">Fälle kumuliert</div>
<div class="t" style="left:1580.48px;top:1013.59px;font-size:12.6px;letter-spacing:0.000px;color:#fff;transform:scaleX(1.0114);transform-origin:0 50%;">Fälle/100.000 Einwohner</div>
<div class="t" style="left:1749.97px;top:1013.59px;font-size:12.6px;letter-spacing:0.000px;color:#fff;transform:scaleX(1.0218);transform-origin:0 50%;">Disclaimer</div>
</body>
</html>
